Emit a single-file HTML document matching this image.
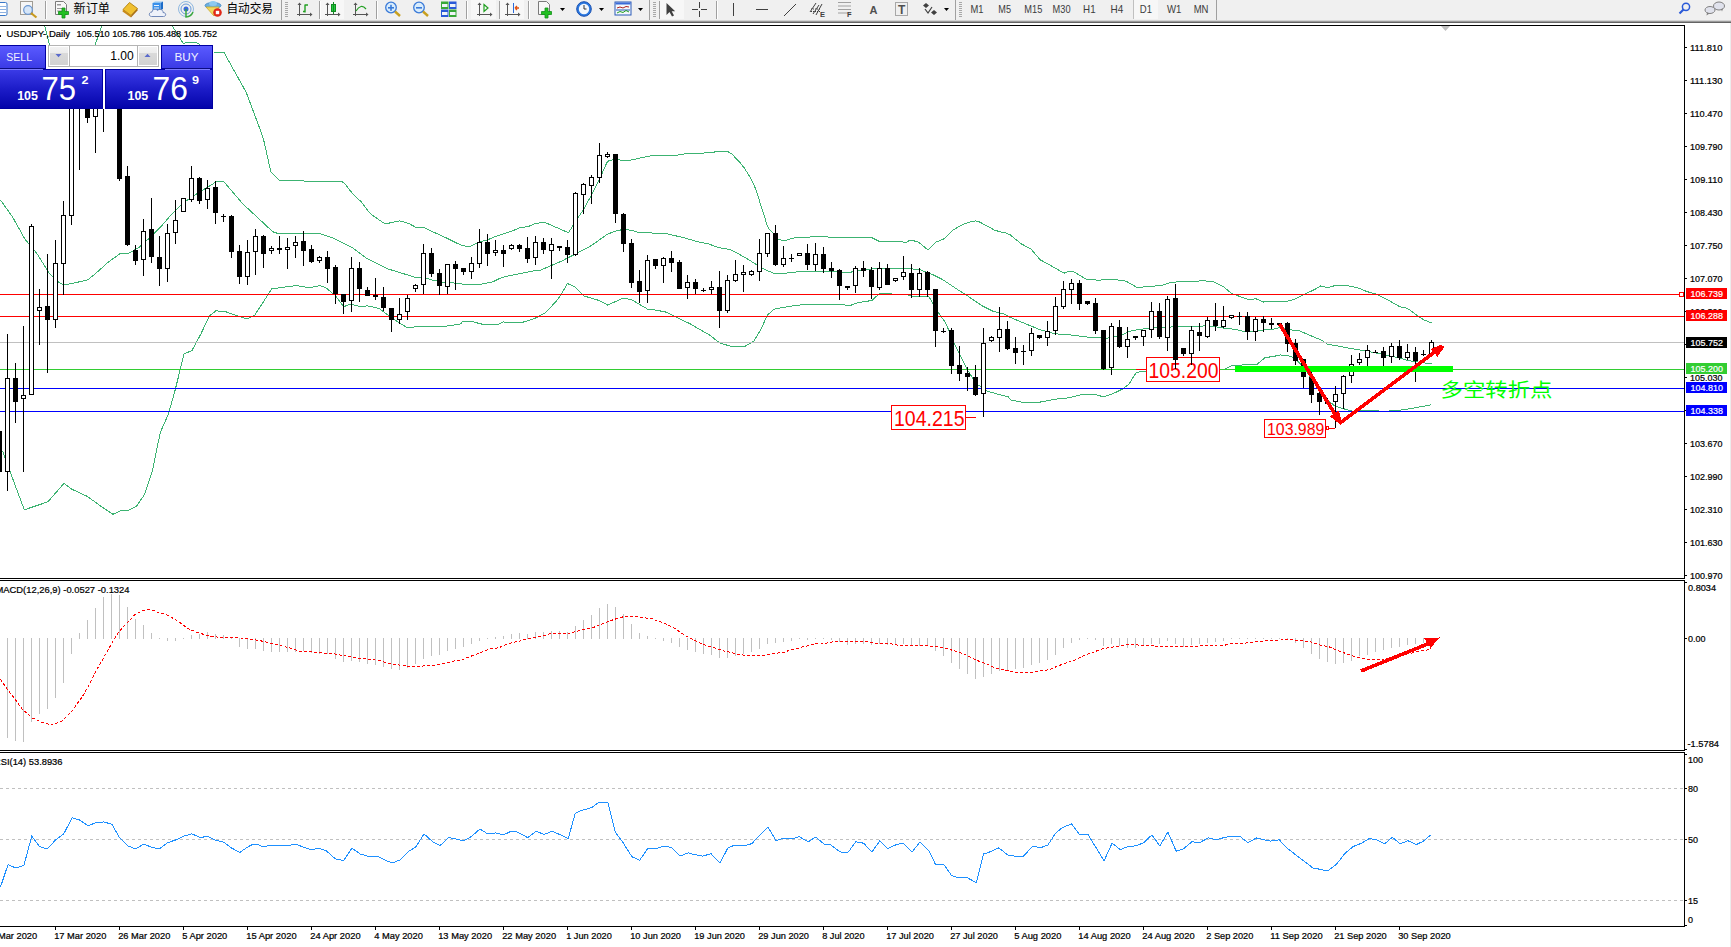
<!DOCTYPE html>
<html><head><meta charset="utf-8"><title>USDJPY Daily</title>
<style>
html,body{margin:0;padding:0;background:#fff;}
body{width:1731px;height:947px;overflow:hidden;position:relative;}
svg{position:absolute;left:0;top:0;}
</style></head>
<body>
<svg width="1731" height="947" viewBox="0 0 1731 947">
<rect x="0" y="0" width="1731" height="947" fill="#fff"/>
<rect x="0" y="25" width="1685" height="1" fill="#000"/>
<rect x="1684" y="25" width="1" height="554" fill="#000"/>
<rect x="0" y="578" width="1685" height="1" fill="#000"/>
<rect x="0" y="580" width="1685" height="1" fill="#000"/>
<rect x="1684" y="580" width="1" height="171" fill="#000"/>
<rect x="0" y="750" width="1685" height="1" fill="#000"/>
<rect x="0" y="752" width="1685" height="1" fill="#000"/>
<rect x="1684" y="752" width="1" height="175" fill="#000"/>
<rect x="0" y="926" width="1685" height="1" fill="#000"/>
<line x1="0" y1="788.5" x2="1684" y2="788.5" stroke="#c0c0c0" stroke-width="1" stroke-dasharray="3,3" shape-rendering="crispEdges"/>
<line x1="0" y1="839.5" x2="1684" y2="839.5" stroke="#c0c0c0" stroke-width="1" stroke-dasharray="3,3" shape-rendering="crispEdges"/>
<line x1="0" y1="900.5" x2="1684" y2="900.5" stroke="#c0c0c0" stroke-width="1" stroke-dasharray="3,3" shape-rendering="crispEdges"/>
<path d="M1441 26 L1450 26 L1445.5 31 Z" fill="#c0c0c0"/>
<defs><clipPath id="cMain"><rect x="0" y="26" width="1684" height="552"/></clipPath></defs>
<g fill="none" stroke="#3cb371" stroke-width="1" shape-rendering="crispEdges" clip-path="url(#cMain)">
<polyline points="38.5,10.5 44.9,26.7 49.0,43.0 52.5,60.5"/>
<polyline points="90.5,60.5 95.8,43.0 101.4,26.7 104.5,12.5"/>
<polyline points="165.5,10.5 172.5,26.3 183.0,43.1 196.5,42.5 202.5,46.5"/>
<polyline points="213.5,52.8 216.1,52.8 224.3,53.0 246.3,92.5 260.5,130.5 263.8,140.5 270.8,171.6 279.8,180.6 300.5,180.9 331.5,181.9 338.5,181.1 342.5,181.9 345.5,184.5 350.5,191.0 355.5,196.7 361.5,202.0 367.4,210.1 372.0,215.0 385.1,223.9 399.9,220.9 408.8,223.4 416.2,227.6 424.2,227.6 432.5,231.7 444.8,237.2 455.8,242.7 462.7,245.7 469.5,246.8 479.1,242.0 487.4,239.9 495.6,236.5 503.8,233.7 512.1,231.0 520.3,227.6 528.5,226.5 535.4,223.2 545.5,222.7 568.5,232.7 575.5,221.7 583.5,209.4 591.5,195.1 599.5,179.0 607.5,161.3 615.5,159.0 623.5,160.9 631.5,160.0 639.5,158.1 651.7,155.6 674.9,155.6 684.2,153.9 699.3,153.5 715.6,151.9 728.3,151.8 731.8,153.9 740.0,162.6 744.6,168.4 750.4,177.7 753.9,184.6 757.4,193.9 760.9,205.6 764.4,216.0 766.7,224.2 769.0,228.8 773.1,233.4 778.3,239.3 784.1,241.0 790.5,238.7 795.8,237.7 803.4,237.7 811.0,236.9 827.5,236.9 830.1,237.7 871.9,237.7 879.5,241.5 907.1,242.1 908.7,240.8 913.9,240.8 918.6,242.3 927.9,249.9 936.3,241.9 943.5,239.2 952.9,230.1 963.3,224.2 970.6,221.8 975.8,220.9 979.9,222.1 994.5,230.1 999.7,231.7 1005.9,232.9 1010.1,234.8 1021.5,244.0 1030.9,248.9 1040.2,259.8 1050.6,265.5 1059.3,270.5 1064.2,273.1 1069.7,271.2 1074.1,272.0 1081.5,276.4 1087.4,279.7 1099.2,280.1 1114.0,279.4 1125.8,281.1 1133.2,285.3 1137.7,288.0 1144.2,286.7 1160.7,285.6 1171.7,282.2 1188.2,281.5 1203.3,280.8 1212.9,281.5 1223.8,287.0 1232.1,293.8 1240.3,296.6 1248.6,299.6 1256.0,298.8 1263.7,302.1 1270.3,301.0 1287.8,301.0 1294.4,299.3 1303.2,294.9 1314.2,289.7 1320.8,285.9 1327.3,287.8 1333.9,285.9 1348.2,285.9 1353.7,287.0 1360.3,288.6 1366.9,291.6 1376.7,294.1 1387.7,299.9 1399.8,306.7 1406.4,308.0 1410.8,310.6 1418.5,316.6 1424.0,319.9 1431.5,322.9"/>
<polyline points="0.5,200.1 12.6,217.1 24.8,238.9 36.9,253.5 49.1,273.0 58.8,282.2 63.7,285.1 73.4,283.2 87.9,279.8 97.7,271.7 107.4,262.8 119.5,254.0 129.2,253.0 138.9,247.5 151.1,236.5 160.8,226.8 170.5,215.5 180.5,205.5 190.5,197.7 216.6,181.6 223.7,181.6 242.7,203.7 272.8,231.8 278.8,233.8 320.1,233.8 331.9,237.5 352.6,247.8 367.4,258.9 386.6,268.5 405.8,274.4 416.2,277.7 424.2,277.7 433.8,280.4 443.5,282.2 451.7,282.7 462.7,284.1 481.9,284.1 492.9,281.8 499.7,278.4 506.6,276.3 520.3,273.5 534.0,270.8 540.5,270.2 560.5,261.6 575.5,254.0 591.5,245.5 599.5,239.8 607.5,234.1 615.5,231.2 623.5,229.3 631.5,230.3 639.5,232.9 650.5,232.9 667.9,234.0 685.4,238.1 697.0,241.6 708.6,243.9 717.9,247.4 730.7,249.7 745.1,257.5 757.0,264.9 765.8,270.0 775.5,273.9 785.7,273.2 795.8,272.0 803.5,271.3 811.0,272.0 821.2,271.1 830.1,271.1 841.5,272.0 851.6,272.0 859.2,270.1 869.3,269.8 874.4,268.5 884.5,268.2 907.1,268.1 911.3,268.9 919.6,269.6 932.1,274.3 942.5,279.5 959.1,290.5 966.5,295.2 981.7,305.6 993.1,311.3 1004.5,314.2 1010.5,317.5 1025.3,323.7 1040.1,329.7 1054.9,333.8 1069.7,334.8 1084.4,336.8 1099.2,337.8 1106.6,338.2 1114.0,337.0 1122.9,334.4 1128.8,331.4 1138.7,329.5 1151.1,328.2 1164.8,327.1 1185.4,326.8 1199.1,326.8 1206.0,325.4 1215.6,326.8 1223.8,328.2 1234.8,329.3 1245.8,332.0 1250.5,331.8 1262.3,330.1 1272.7,329.3 1280.1,327.4 1290.4,329.8 1299.3,330.8 1309.6,335.2 1321.5,340.1 1327.4,344.1 1339.2,346.3 1351.0,348.5 1366.3,351.1 1382.2,354.1 1394.9,356.9 1408.6,360.6 1423.4,362.8 1431.5,363.8"/>
<polyline points="0.5,449.5 3.1,452.2 9.7,470.7 24.3,509.8 48.0,501.8 63.9,483.4 71.8,489.2 87.7,496.6 100.9,506.3 112.8,514.3 120.7,510.8 127.3,510.8 136.5,506.3 144.5,494.5 152.4,470.7 160.3,432.4 168.2,414.7 174.8,391.4 184.1,353.9 192.0,350.5 201.2,333.3 209.2,316.2 215.8,310.9 224.7,311.4 246.7,319.0 254.8,315.0 271.8,288.9 296.4,285.5 309.7,287.8 320.1,285.5 326.0,287.8 334.9,295.1 343.7,306.7 351.1,304.0 360.0,306.7 367.4,305.8 379.2,308.5 391.1,317.3 399.9,323.2 407.5,327.7 414.7,326.9 440.5,326.9 460.5,324.0 462.5,321.7 473.5,321.9 480.5,323.8 485.5,324.9 497.5,324.9 503.5,321.9 508.5,322.6 520.5,322.9 527.5,320.8 537.5,317.3 545.5,312.5 555.5,302.1 561.5,294.0 567.5,283.5 575.5,287.3 583.5,295.8 599.5,300.6 607.5,305.0 623.5,298.1 631.5,299.6 647.5,309.1 655.5,310.1 665.3,311.9 677.1,317.4 690.4,324.0 709.7,335.1 720.0,343.2 733.3,346.9 745.1,346.2 754.0,341.0 761.4,328.5 767.3,315.1 773.2,310.0 775.5,308.7 783.2,307.4 795.8,305.3 808.5,304.5 833.9,304.5 844.0,304.9 849.1,305.8 859.2,302.4 871.9,300.5 879.5,293.5 884.5,293.9 905.7,294.2 911.4,296.1 928.5,296.1 939.9,315.1 945.6,322.7 955.1,345.5 966.5,368.3 976.0,383.5 987.4,391.1 996.9,394.0 1008.3,396.8 1010.5,399.9 1025.3,402.9 1040.1,402.1 1054.9,399.2 1069.7,397.7 1081.5,394.7 1093.3,394.0 1103.7,396.9 1114.0,393.2 1122.9,388.8 1128.8,384.4 1136.0,372.8 1139.4,372.0 1146.5,371.7 1220.3,369.9 1224.6,369.2 1230.9,365.9 1243.1,364.9 1256.4,364.8 1265.3,357.4 1272.7,356.7 1280.1,354.9 1287.5,355.5 1294.9,358.2 1302.2,365.5 1309.6,375.9 1318.5,389.2 1325.9,399.0 1329.8,401.8 1334.5,405.8 1339.5,407.5 1345.1,409.2 1354.0,411.4 1360.5,410.8 1387.5,411.1 1403.3,409.8 1416.0,407.6 1431.5,404.8"/>
</g>
<rect x="0" y="294" width="1679" height="1" fill="#ff0000"/>
<rect x="0" y="316" width="1684" height="1" fill="#ff0000"/>
<rect x="0" y="342" width="1684" height="1" fill="#c0c0c0"/>
<rect x="0" y="369" width="1684" height="1" fill="#32cd32"/>
<rect x="0" y="388" width="1684" height="1" fill="#0000ff"/>
<rect x="0" y="411" width="1684" height="1" fill="#0000ff"/>
<rect x="1679.5" y="292.5" width="4" height="4" fill="#fff" stroke="#ff0000" stroke-width="1"/>
<rect x="1146.5" y="357.5" width="73" height="24" fill="#fff" stroke="#ff0000" stroke-width="1"/>
<text x="1148.5" y="378.3" font-size="22" fill="#ff0000" textLength="70.0" lengthAdjust="spacingAndGlyphs" font-family="'Liberation Sans',Arial,sans-serif" >105.200</text>
<rect x="1136" y="369" width="10" height="1" fill="#ff0000"/>
<rect x="891.5" y="405.5" width="74" height="24" fill="#fff" stroke="#ff0000" stroke-width="1"/>
<text x="894.0" y="426.0" font-size="22" fill="#ff0000" textLength="70.5" lengthAdjust="spacingAndGlyphs" font-family="'Liberation Sans',Arial,sans-serif" >104.215</text>
<rect x="966" y="417" width="10" height="1" fill="#ff0000"/>
<rect x="1264.5" y="419.5" width="61" height="18" fill="#fff" stroke="#ff0000" stroke-width="1"/>
<text x="1267.0" y="435.0" font-size="16.5" fill="#ff0000" textLength="57.299999999999955" lengthAdjust="spacingAndGlyphs" font-family="'Liberation Sans',Arial,sans-serif" >103.989</text>
<rect x="1326.5" y="426.5" width="2" height="3" fill="#fff" stroke="#ff0000" stroke-width="1"/>
<rect x="1329" y="428" width="6" height="1" fill="#ff0000"/>
<g shape-rendering="crispEdges">
<rect x="-1" y="430" width="1" height="42" fill="#000"/>
<rect x="-3" y="431" width="5" height="41" fill="#000"/>
<rect x="7" y="334" width="1" height="157" fill="#000"/>
<rect x="5" y="378" width="5" height="94" fill="#000"/>
<rect x="6" y="379" width="3" height="92" fill="#fff"/>
<rect x="15" y="363" width="1" height="60" fill="#000"/>
<rect x="13" y="378" width="5" height="24" fill="#000"/>
<rect x="23" y="326" width="1" height="146" fill="#000"/>
<rect x="21" y="395" width="5" height="4" fill="#000"/>
<rect x="22" y="396" width="3" height="2" fill="#fff"/>
<rect x="31" y="224" width="1" height="171" fill="#000"/>
<rect x="29" y="226" width="5" height="169" fill="#000"/>
<rect x="30" y="227" width="3" height="167" fill="#fff"/>
<rect x="39" y="289" width="1" height="56" fill="#000"/>
<rect x="37" y="307" width="5" height="4" fill="#000"/>
<rect x="38" y="308" width="3" height="2" fill="#fff"/>
<rect x="47" y="254" width="1" height="119" fill="#000"/>
<rect x="45" y="306" width="5" height="14" fill="#000"/>
<rect x="55" y="240" width="1" height="88" fill="#000"/>
<rect x="53" y="263" width="5" height="57" fill="#000"/>
<rect x="54" y="264" width="3" height="55" fill="#fff"/>
<rect x="63" y="201" width="1" height="94" fill="#000"/>
<rect x="61" y="215" width="5" height="49" fill="#000"/>
<rect x="62" y="216" width="3" height="47" fill="#fff"/>
<rect x="71" y="55" width="1" height="170" fill="#000"/>
<rect x="69" y="60" width="5" height="156" fill="#000"/>
<rect x="70" y="61" width="3" height="154" fill="#fff"/>
<rect x="79" y="55" width="1" height="115" fill="#000"/>
<rect x="77" y="70" width="5" height="30" fill="#000"/>
<rect x="87" y="60" width="1" height="63" fill="#000"/>
<rect x="85" y="80" width="5" height="38" fill="#000"/>
<rect x="95" y="70" width="1" height="83" fill="#000"/>
<rect x="93" y="90" width="5" height="27" fill="#000"/>
<rect x="94" y="91" width="3" height="25" fill="#fff"/>
<rect x="103" y="55" width="1" height="77" fill="#000"/>
<rect x="101" y="60" width="5" height="40" fill="#000"/>
<rect x="111" y="55" width="1" height="50" fill="#000"/>
<rect x="109" y="60" width="5" height="40" fill="#000"/>
<rect x="119" y="60" width="1" height="121" fill="#000"/>
<rect x="117" y="75" width="5" height="104" fill="#000"/>
<rect x="127" y="166" width="1" height="80" fill="#000"/>
<rect x="125" y="176" width="5" height="69" fill="#000"/>
<rect x="135" y="245" width="1" height="20" fill="#000"/>
<rect x="133" y="250" width="5" height="11" fill="#000"/>
<rect x="143" y="219" width="1" height="57" fill="#000"/>
<rect x="141" y="231" width="5" height="29" fill="#000"/>
<rect x="142" y="232" width="3" height="27" fill="#fff"/>
<rect x="151" y="198" width="1" height="65" fill="#000"/>
<rect x="149" y="229" width="5" height="28" fill="#000"/>
<rect x="159" y="236" width="1" height="50" fill="#000"/>
<rect x="157" y="257" width="5" height="12" fill="#000"/>
<rect x="167" y="224" width="1" height="58" fill="#000"/>
<rect x="165" y="233" width="5" height="36" fill="#000"/>
<rect x="166" y="234" width="3" height="34" fill="#fff"/>
<rect x="175" y="200" width="1" height="44" fill="#000"/>
<rect x="173" y="220" width="5" height="13" fill="#000"/>
<rect x="174" y="221" width="3" height="11" fill="#fff"/>
<rect x="183" y="198" width="1" height="14" fill="#000"/>
<rect x="181" y="198" width="5" height="14" fill="#000"/>
<rect x="182" y="199" width="3" height="12" fill="#fff"/>
<rect x="191" y="166" width="1" height="36" fill="#000"/>
<rect x="189" y="178" width="5" height="22" fill="#000"/>
<rect x="190" y="179" width="3" height="20" fill="#fff"/>
<rect x="199" y="177" width="1" height="27" fill="#000"/>
<rect x="197" y="178" width="5" height="23" fill="#000"/>
<rect x="207" y="180" width="1" height="29" fill="#000"/>
<rect x="205" y="188" width="5" height="12" fill="#000"/>
<rect x="206" y="189" width="3" height="10" fill="#fff"/>
<rect x="215" y="181" width="1" height="43" fill="#000"/>
<rect x="213" y="187" width="5" height="26" fill="#000"/>
<rect x="223" y="214" width="1" height="8" fill="#000"/>
<rect x="221" y="216" width="5" height="1" fill="#000"/>
<rect x="231" y="215" width="1" height="43" fill="#000"/>
<rect x="229" y="216" width="5" height="36" fill="#000"/>
<rect x="239" y="245" width="1" height="39" fill="#000"/>
<rect x="237" y="251" width="5" height="26" fill="#000"/>
<rect x="247" y="240" width="1" height="45" fill="#000"/>
<rect x="245" y="252" width="5" height="25" fill="#000"/>
<rect x="246" y="253" width="3" height="23" fill="#fff"/>
<rect x="255" y="229" width="1" height="46" fill="#000"/>
<rect x="253" y="236" width="5" height="16" fill="#000"/>
<rect x="254" y="237" width="3" height="14" fill="#fff"/>
<rect x="263" y="235" width="1" height="33" fill="#000"/>
<rect x="261" y="236" width="5" height="18" fill="#000"/>
<rect x="271" y="246" width="1" height="8" fill="#000"/>
<rect x="269" y="248" width="5" height="3" fill="#000"/>
<rect x="270" y="249" width="3" height="1" fill="#fff"/>
<rect x="279" y="236" width="1" height="18" fill="#000"/>
<rect x="277" y="248" width="5" height="2" fill="#000"/>
<rect x="287" y="238" width="1" height="31" fill="#000"/>
<rect x="285" y="247" width="5" height="3" fill="#000"/>
<rect x="286" y="248" width="3" height="1" fill="#fff"/>
<rect x="295" y="236" width="1" height="22" fill="#000"/>
<rect x="293" y="242" width="5" height="4" fill="#000"/>
<rect x="294" y="243" width="3" height="2" fill="#fff"/>
<rect x="303" y="231" width="1" height="35" fill="#000"/>
<rect x="301" y="241" width="5" height="10" fill="#000"/>
<rect x="311" y="245" width="1" height="18" fill="#000"/>
<rect x="309" y="249" width="5" height="13" fill="#000"/>
<rect x="319" y="256" width="1" height="7" fill="#000"/>
<rect x="317" y="257" width="5" height="4" fill="#000"/>
<rect x="318" y="258" width="3" height="2" fill="#fff"/>
<rect x="327" y="251" width="1" height="32" fill="#000"/>
<rect x="325" y="257" width="5" height="12" fill="#000"/>
<rect x="335" y="265" width="1" height="39" fill="#000"/>
<rect x="333" y="267" width="5" height="27" fill="#000"/>
<rect x="343" y="294" width="1" height="20" fill="#000"/>
<rect x="341" y="294" width="5" height="8" fill="#000"/>
<rect x="351" y="257" width="1" height="55" fill="#000"/>
<rect x="349" y="268" width="5" height="33" fill="#000"/>
<rect x="350" y="269" width="3" height="31" fill="#fff"/>
<rect x="359" y="262" width="1" height="40" fill="#000"/>
<rect x="357" y="268" width="5" height="21" fill="#000"/>
<rect x="367" y="287" width="1" height="9" fill="#000"/>
<rect x="365" y="290" width="5" height="6" fill="#000"/>
<rect x="375" y="278" width="1" height="22" fill="#000"/>
<rect x="373" y="295" width="5" height="2" fill="#000"/>
<rect x="383" y="287" width="1" height="24" fill="#000"/>
<rect x="381" y="297" width="5" height="11" fill="#000"/>
<rect x="391" y="308" width="1" height="24" fill="#000"/>
<rect x="389" y="308" width="5" height="12" fill="#000"/>
<rect x="399" y="298" width="1" height="26" fill="#000"/>
<rect x="397" y="314" width="5" height="6" fill="#000"/>
<rect x="398" y="315" width="3" height="4" fill="#fff"/>
<rect x="407" y="295" width="1" height="25" fill="#000"/>
<rect x="405" y="298" width="5" height="14" fill="#000"/>
<rect x="406" y="299" width="3" height="12" fill="#fff"/>
<rect x="415" y="284" width="1" height="8" fill="#000"/>
<rect x="413" y="285" width="5" height="4" fill="#000"/>
<rect x="414" y="286" width="3" height="2" fill="#fff"/>
<rect x="423" y="244" width="1" height="50" fill="#000"/>
<rect x="421" y="253" width="5" height="32" fill="#000"/>
<rect x="422" y="254" width="3" height="30" fill="#fff"/>
<rect x="431" y="248" width="1" height="29" fill="#000"/>
<rect x="429" y="253" width="5" height="21" fill="#000"/>
<rect x="439" y="269" width="1" height="26" fill="#000"/>
<rect x="437" y="273" width="5" height="13" fill="#000"/>
<rect x="447" y="264" width="1" height="30" fill="#000"/>
<rect x="445" y="264" width="5" height="23" fill="#000"/>
<rect x="446" y="265" width="3" height="21" fill="#fff"/>
<rect x="455" y="261" width="1" height="29" fill="#000"/>
<rect x="453" y="264" width="5" height="5" fill="#000"/>
<rect x="463" y="268" width="1" height="7" fill="#000"/>
<rect x="461" y="268" width="5" height="4" fill="#000"/>
<rect x="471" y="257" width="1" height="22" fill="#000"/>
<rect x="469" y="263" width="5" height="9" fill="#000"/>
<rect x="470" y="264" width="3" height="7" fill="#fff"/>
<rect x="479" y="229" width="1" height="39" fill="#000"/>
<rect x="477" y="242" width="5" height="22" fill="#000"/>
<rect x="478" y="243" width="3" height="20" fill="#fff"/>
<rect x="487" y="234" width="1" height="32" fill="#000"/>
<rect x="485" y="242" width="5" height="12" fill="#000"/>
<rect x="495" y="240" width="1" height="16" fill="#000"/>
<rect x="493" y="250" width="5" height="3" fill="#000"/>
<rect x="494" y="251" width="3" height="1" fill="#fff"/>
<rect x="503" y="245" width="1" height="22" fill="#000"/>
<rect x="501" y="250" width="5" height="4" fill="#000"/>
<rect x="511" y="244" width="1" height="6" fill="#000"/>
<rect x="509" y="245" width="5" height="4" fill="#000"/>
<rect x="510" y="246" width="3" height="2" fill="#fff"/>
<rect x="519" y="244" width="1" height="8" fill="#000"/>
<rect x="517" y="245" width="5" height="4" fill="#000"/>
<rect x="527" y="237" width="1" height="26" fill="#000"/>
<rect x="525" y="248" width="5" height="11" fill="#000"/>
<rect x="535" y="236" width="1" height="29" fill="#000"/>
<rect x="533" y="242" width="5" height="16" fill="#000"/>
<rect x="534" y="243" width="3" height="14" fill="#fff"/>
<rect x="543" y="238" width="1" height="16" fill="#000"/>
<rect x="541" y="242" width="5" height="8" fill="#000"/>
<rect x="551" y="238" width="1" height="41" fill="#000"/>
<rect x="549" y="244" width="5" height="7" fill="#000"/>
<rect x="550" y="245" width="3" height="5" fill="#fff"/>
<rect x="559" y="246" width="1" height="5" fill="#000"/>
<rect x="557" y="246" width="5" height="2" fill="#000"/>
<rect x="567" y="240" width="1" height="23" fill="#000"/>
<rect x="565" y="247" width="5" height="8" fill="#000"/>
<rect x="575" y="192" width="1" height="64" fill="#000"/>
<rect x="573" y="193" width="5" height="62" fill="#000"/>
<rect x="574" y="194" width="3" height="60" fill="#fff"/>
<rect x="583" y="183" width="1" height="31" fill="#000"/>
<rect x="581" y="184" width="5" height="11" fill="#000"/>
<rect x="582" y="185" width="3" height="9" fill="#fff"/>
<rect x="591" y="175" width="1" height="29" fill="#000"/>
<rect x="589" y="177" width="5" height="9" fill="#000"/>
<rect x="590" y="178" width="3" height="7" fill="#fff"/>
<rect x="599" y="143" width="1" height="40" fill="#000"/>
<rect x="597" y="155" width="5" height="23" fill="#000"/>
<rect x="598" y="156" width="3" height="21" fill="#fff"/>
<rect x="607" y="152" width="1" height="6" fill="#000"/>
<rect x="605" y="154" width="5" height="3" fill="#000"/>
<rect x="606" y="155" width="3" height="1" fill="#fff"/>
<rect x="615" y="154" width="1" height="69" fill="#000"/>
<rect x="613" y="154" width="5" height="60" fill="#000"/>
<rect x="623" y="213" width="1" height="39" fill="#000"/>
<rect x="621" y="214" width="5" height="30" fill="#000"/>
<rect x="631" y="239" width="1" height="49" fill="#000"/>
<rect x="629" y="243" width="5" height="40" fill="#000"/>
<rect x="639" y="270" width="1" height="33" fill="#000"/>
<rect x="637" y="281" width="5" height="11" fill="#000"/>
<rect x="647" y="255" width="1" height="48" fill="#000"/>
<rect x="645" y="260" width="5" height="31" fill="#000"/>
<rect x="646" y="261" width="3" height="29" fill="#fff"/>
<rect x="655" y="259" width="1" height="10" fill="#000"/>
<rect x="653" y="259" width="5" height="7" fill="#000"/>
<rect x="663" y="257" width="1" height="26" fill="#000"/>
<rect x="661" y="258" width="5" height="8" fill="#000"/>
<rect x="662" y="259" width="3" height="6" fill="#fff"/>
<rect x="671" y="251" width="1" height="21" fill="#000"/>
<rect x="669" y="258" width="5" height="5" fill="#000"/>
<rect x="679" y="260" width="1" height="29" fill="#000"/>
<rect x="677" y="262" width="5" height="27" fill="#000"/>
<rect x="687" y="275" width="1" height="24" fill="#000"/>
<rect x="685" y="282" width="5" height="6" fill="#000"/>
<rect x="686" y="283" width="3" height="4" fill="#fff"/>
<rect x="695" y="279" width="1" height="15" fill="#000"/>
<rect x="693" y="282" width="5" height="7" fill="#000"/>
<rect x="703" y="288" width="1" height="4" fill="#000"/>
<rect x="701" y="290" width="5" height="1" fill="#000"/>
<rect x="711" y="281" width="1" height="13" fill="#000"/>
<rect x="709" y="287" width="5" height="3" fill="#000"/>
<rect x="710" y="288" width="3" height="1" fill="#fff"/>
<rect x="719" y="271" width="1" height="57" fill="#000"/>
<rect x="717" y="287" width="5" height="24" fill="#000"/>
<rect x="727" y="275" width="1" height="38" fill="#000"/>
<rect x="725" y="280" width="5" height="31" fill="#000"/>
<rect x="726" y="281" width="3" height="29" fill="#fff"/>
<rect x="735" y="260" width="1" height="22" fill="#000"/>
<rect x="733" y="274" width="5" height="7" fill="#000"/>
<rect x="734" y="275" width="3" height="5" fill="#fff"/>
<rect x="743" y="265" width="1" height="27" fill="#000"/>
<rect x="741" y="272" width="5" height="3" fill="#000"/>
<rect x="742" y="273" width="3" height="1" fill="#fff"/>
<rect x="751" y="270" width="1" height="6" fill="#000"/>
<rect x="749" y="271" width="5" height="4" fill="#000"/>
<rect x="750" y="272" width="3" height="2" fill="#fff"/>
<rect x="759" y="239" width="1" height="42" fill="#000"/>
<rect x="757" y="253" width="5" height="19" fill="#000"/>
<rect x="758" y="254" width="3" height="17" fill="#fff"/>
<rect x="767" y="233" width="1" height="24" fill="#000"/>
<rect x="765" y="233" width="5" height="21" fill="#000"/>
<rect x="766" y="234" width="3" height="19" fill="#fff"/>
<rect x="775" y="225" width="1" height="41" fill="#000"/>
<rect x="773" y="233" width="5" height="32" fill="#000"/>
<rect x="783" y="246" width="1" height="21" fill="#000"/>
<rect x="781" y="258" width="5" height="7" fill="#000"/>
<rect x="782" y="259" width="3" height="5" fill="#fff"/>
<rect x="791" y="254" width="1" height="8" fill="#000"/>
<rect x="789" y="258" width="5" height="1" fill="#000"/>
<rect x="799" y="253" width="1" height="3" fill="#000"/>
<rect x="797" y="253" width="5" height="3" fill="#000"/>
<rect x="798" y="254" width="3" height="1" fill="#fff"/>
<rect x="807" y="244" width="1" height="26" fill="#000"/>
<rect x="805" y="253" width="5" height="12" fill="#000"/>
<rect x="815" y="243" width="1" height="28" fill="#000"/>
<rect x="813" y="254" width="5" height="11" fill="#000"/>
<rect x="814" y="255" width="3" height="9" fill="#fff"/>
<rect x="823" y="247" width="1" height="26" fill="#000"/>
<rect x="821" y="254" width="5" height="15" fill="#000"/>
<rect x="831" y="262" width="1" height="16" fill="#000"/>
<rect x="829" y="268" width="5" height="3" fill="#000"/>
<rect x="839" y="269" width="1" height="31" fill="#000"/>
<rect x="837" y="270" width="5" height="16" fill="#000"/>
<rect x="847" y="286" width="1" height="4" fill="#000"/>
<rect x="845" y="286" width="5" height="2" fill="#000"/>
<rect x="855" y="266" width="1" height="27" fill="#000"/>
<rect x="853" y="268" width="5" height="18" fill="#000"/>
<rect x="854" y="269" width="3" height="16" fill="#fff"/>
<rect x="863" y="261" width="1" height="16" fill="#000"/>
<rect x="861" y="268" width="5" height="3" fill="#000"/>
<rect x="871" y="267" width="1" height="32" fill="#000"/>
<rect x="869" y="270" width="5" height="17" fill="#000"/>
<rect x="879" y="262" width="1" height="28" fill="#000"/>
<rect x="877" y="268" width="5" height="20" fill="#000"/>
<rect x="878" y="269" width="3" height="18" fill="#fff"/>
<rect x="887" y="264" width="1" height="21" fill="#000"/>
<rect x="885" y="268" width="5" height="17" fill="#000"/>
<rect x="895" y="278" width="1" height="4" fill="#000"/>
<rect x="893" y="278" width="5" height="3" fill="#000"/>
<rect x="894" y="279" width="3" height="1" fill="#fff"/>
<rect x="903" y="256" width="1" height="24" fill="#000"/>
<rect x="901" y="272" width="5" height="5" fill="#000"/>
<rect x="902" y="273" width="3" height="3" fill="#fff"/>
<rect x="911" y="264" width="1" height="34" fill="#000"/>
<rect x="909" y="273" width="5" height="17" fill="#000"/>
<rect x="919" y="268" width="1" height="29" fill="#000"/>
<rect x="917" y="273" width="5" height="17" fill="#000"/>
<rect x="918" y="274" width="3" height="15" fill="#fff"/>
<rect x="927" y="271" width="1" height="26" fill="#000"/>
<rect x="925" y="272" width="5" height="18" fill="#000"/>
<rect x="935" y="289" width="1" height="58" fill="#000"/>
<rect x="933" y="289" width="5" height="42" fill="#000"/>
<rect x="943" y="328" width="1" height="5" fill="#000"/>
<rect x="941" y="331" width="5" height="1" fill="#000"/>
<rect x="951" y="328" width="1" height="46" fill="#000"/>
<rect x="949" y="330" width="5" height="36" fill="#000"/>
<rect x="959" y="346" width="1" height="35" fill="#000"/>
<rect x="957" y="365" width="5" height="9" fill="#000"/>
<rect x="967" y="367" width="1" height="24" fill="#000"/>
<rect x="965" y="373" width="5" height="4" fill="#000"/>
<rect x="975" y="365" width="1" height="31" fill="#000"/>
<rect x="973" y="377" width="5" height="18" fill="#000"/>
<rect x="983" y="328" width="1" height="89" fill="#000"/>
<rect x="981" y="343" width="5" height="51" fill="#000"/>
<rect x="982" y="344" width="3" height="49" fill="#fff"/>
<rect x="991" y="336" width="1" height="6" fill="#000"/>
<rect x="989" y="337" width="5" height="4" fill="#000"/>
<rect x="990" y="338" width="3" height="2" fill="#fff"/>
<rect x="999" y="307" width="1" height="45" fill="#000"/>
<rect x="997" y="329" width="5" height="9" fill="#000"/>
<rect x="998" y="330" width="3" height="7" fill="#fff"/>
<rect x="1007" y="321" width="1" height="29" fill="#000"/>
<rect x="1005" y="329" width="5" height="20" fill="#000"/>
<rect x="1015" y="337" width="1" height="27" fill="#000"/>
<rect x="1013" y="348" width="5" height="5" fill="#000"/>
<rect x="1023" y="345" width="1" height="20" fill="#000"/>
<rect x="1021" y="351" width="5" height="1" fill="#000"/>
<rect x="1031" y="328" width="1" height="28" fill="#000"/>
<rect x="1029" y="333" width="5" height="18" fill="#000"/>
<rect x="1030" y="334" width="3" height="16" fill="#fff"/>
<rect x="1039" y="335" width="1" height="4" fill="#000"/>
<rect x="1037" y="335" width="5" height="3" fill="#000"/>
<rect x="1047" y="321" width="1" height="25" fill="#000"/>
<rect x="1045" y="331" width="5" height="7" fill="#000"/>
<rect x="1046" y="332" width="3" height="5" fill="#fff"/>
<rect x="1055" y="297" width="1" height="38" fill="#000"/>
<rect x="1053" y="306" width="5" height="25" fill="#000"/>
<rect x="1054" y="307" width="3" height="23" fill="#fff"/>
<rect x="1063" y="281" width="1" height="28" fill="#000"/>
<rect x="1061" y="289" width="5" height="18" fill="#000"/>
<rect x="1062" y="290" width="3" height="16" fill="#fff"/>
<rect x="1071" y="279" width="1" height="25" fill="#000"/>
<rect x="1069" y="283" width="5" height="7" fill="#000"/>
<rect x="1070" y="284" width="3" height="5" fill="#fff"/>
<rect x="1079" y="280" width="1" height="30" fill="#000"/>
<rect x="1077" y="283" width="5" height="21" fill="#000"/>
<rect x="1087" y="301" width="1" height="4" fill="#000"/>
<rect x="1085" y="301" width="5" height="3" fill="#000"/>
<rect x="1095" y="298" width="1" height="36" fill="#000"/>
<rect x="1093" y="303" width="5" height="28" fill="#000"/>
<rect x="1103" y="330" width="1" height="40" fill="#000"/>
<rect x="1101" y="330" width="5" height="39" fill="#000"/>
<rect x="1111" y="323" width="1" height="52" fill="#000"/>
<rect x="1109" y="326" width="5" height="42" fill="#000"/>
<rect x="1110" y="327" width="3" height="40" fill="#fff"/>
<rect x="1119" y="320" width="1" height="28" fill="#000"/>
<rect x="1117" y="327" width="5" height="20" fill="#000"/>
<rect x="1127" y="327" width="1" height="31" fill="#000"/>
<rect x="1125" y="339" width="5" height="8" fill="#000"/>
<rect x="1126" y="340" width="3" height="6" fill="#fff"/>
<rect x="1135" y="336" width="1" height="4" fill="#000"/>
<rect x="1133" y="336" width="5" height="2" fill="#000"/>
<rect x="1143" y="330" width="1" height="16" fill="#000"/>
<rect x="1141" y="330" width="5" height="7" fill="#000"/>
<rect x="1142" y="331" width="3" height="5" fill="#fff"/>
<rect x="1151" y="302" width="1" height="36" fill="#000"/>
<rect x="1149" y="311" width="5" height="19" fill="#000"/>
<rect x="1150" y="312" width="3" height="17" fill="#fff"/>
<rect x="1159" y="303" width="1" height="36" fill="#000"/>
<rect x="1157" y="311" width="5" height="26" fill="#000"/>
<rect x="1167" y="296" width="1" height="55" fill="#000"/>
<rect x="1165" y="299" width="5" height="39" fill="#000"/>
<rect x="1166" y="300" width="3" height="37" fill="#fff"/>
<rect x="1175" y="284" width="1" height="85" fill="#000"/>
<rect x="1173" y="298" width="5" height="62" fill="#000"/>
<rect x="1183" y="348" width="1" height="8" fill="#000"/>
<rect x="1181" y="348" width="5" height="6" fill="#000"/>
<rect x="1191" y="326" width="1" height="39" fill="#000"/>
<rect x="1189" y="330" width="5" height="24" fill="#000"/>
<rect x="1190" y="331" width="3" height="22" fill="#fff"/>
<rect x="1199" y="323" width="1" height="28" fill="#000"/>
<rect x="1197" y="332" width="5" height="4" fill="#000"/>
<rect x="1207" y="317" width="1" height="21" fill="#000"/>
<rect x="1205" y="320" width="5" height="17" fill="#000"/>
<rect x="1206" y="321" width="3" height="15" fill="#fff"/>
<rect x="1215" y="303" width="1" height="28" fill="#000"/>
<rect x="1213" y="320" width="5" height="6" fill="#000"/>
<rect x="1223" y="306" width="1" height="22" fill="#000"/>
<rect x="1221" y="320" width="5" height="7" fill="#000"/>
<rect x="1222" y="321" width="3" height="5" fill="#fff"/>
<rect x="1231" y="315" width="1" height="4" fill="#000"/>
<rect x="1229" y="315" width="5" height="3" fill="#000"/>
<rect x="1230" y="316" width="3" height="1" fill="#fff"/>
<rect x="1239" y="312" width="1" height="13" fill="#000"/>
<rect x="1237" y="316" width="5" height="1" fill="#000"/>
<rect x="1247" y="312" width="1" height="28" fill="#000"/>
<rect x="1245" y="316" width="5" height="16" fill="#000"/>
<rect x="1255" y="317" width="1" height="24" fill="#000"/>
<rect x="1253" y="319" width="5" height="13" fill="#000"/>
<rect x="1254" y="320" width="3" height="11" fill="#fff"/>
<rect x="1263" y="316" width="1" height="16" fill="#000"/>
<rect x="1261" y="319" width="5" height="4" fill="#000"/>
<rect x="1271" y="318" width="1" height="11" fill="#000"/>
<rect x="1269" y="323" width="5" height="2" fill="#000"/>
<rect x="1279" y="323" width="1" height="2" fill="#000"/>
<rect x="1277" y="323" width="5" height="2" fill="#000"/>
<rect x="1287" y="322" width="1" height="30" fill="#000"/>
<rect x="1285" y="323" width="5" height="21" fill="#000"/>
<rect x="1295" y="339" width="1" height="26" fill="#000"/>
<rect x="1293" y="343" width="5" height="18" fill="#000"/>
<rect x="1303" y="359" width="1" height="29" fill="#000"/>
<rect x="1301" y="359" width="5" height="18" fill="#000"/>
<rect x="1311" y="372" width="1" height="31" fill="#000"/>
<rect x="1309" y="377" width="5" height="18" fill="#000"/>
<rect x="1319" y="389" width="1" height="26" fill="#000"/>
<rect x="1317" y="393" width="5" height="9" fill="#000"/>
<rect x="1327" y="398" width="1" height="7" fill="#000"/>
<rect x="1325" y="402" width="5" height="2" fill="#000"/>
<rect x="1335" y="386" width="1" height="42" fill="#000"/>
<rect x="1333" y="394" width="5" height="8" fill="#000"/>
<rect x="1334" y="395" width="3" height="6" fill="#fff"/>
<rect x="1343" y="375" width="1" height="34" fill="#000"/>
<rect x="1341" y="376" width="5" height="18" fill="#000"/>
<rect x="1342" y="377" width="3" height="16" fill="#fff"/>
<rect x="1351" y="355" width="1" height="28" fill="#000"/>
<rect x="1349" y="364" width="5" height="12" fill="#000"/>
<rect x="1350" y="365" width="3" height="10" fill="#fff"/>
<rect x="1359" y="353" width="1" height="12" fill="#000"/>
<rect x="1357" y="359" width="5" height="4" fill="#000"/>
<rect x="1358" y="360" width="3" height="2" fill="#fff"/>
<rect x="1367" y="345" width="1" height="21" fill="#000"/>
<rect x="1365" y="350" width="5" height="8" fill="#000"/>
<rect x="1366" y="351" width="3" height="6" fill="#fff"/>
<rect x="1375" y="350" width="1" height="2" fill="#000"/>
<rect x="1373" y="352" width="5" height="1" fill="#000"/>
<rect x="1383" y="347" width="1" height="19" fill="#000"/>
<rect x="1381" y="351" width="5" height="7" fill="#000"/>
<rect x="1391" y="343" width="1" height="20" fill="#000"/>
<rect x="1389" y="346" width="5" height="11" fill="#000"/>
<rect x="1390" y="347" width="3" height="9" fill="#fff"/>
<rect x="1399" y="340" width="1" height="20" fill="#000"/>
<rect x="1397" y="346" width="5" height="12" fill="#000"/>
<rect x="1407" y="344" width="1" height="16" fill="#000"/>
<rect x="1405" y="352" width="5" height="6" fill="#000"/>
<rect x="1406" y="353" width="3" height="4" fill="#fff"/>
<rect x="1415" y="347" width="1" height="35" fill="#000"/>
<rect x="1413" y="352" width="5" height="9" fill="#000"/>
<rect x="1423" y="350" width="1" height="6" fill="#000"/>
<rect x="1421" y="354" width="5" height="1" fill="#000"/>
<rect x="1431" y="340" width="1" height="15" fill="#000"/>
<rect x="1429" y="342" width="5" height="12" fill="#000"/>
<rect x="1430" y="343" width="3" height="10" fill="#fff"/>
</g>
<rect x="1235" y="366" width="218" height="6" fill="#00ff00"/>
<g fill="#ff0000" stroke="#ff0000" shape-rendering="crispEdges">
<line x1="1279.5" y1="324" x2="1338" y2="419" stroke-width="3.6"/>
<polygon points="1330.8,416.5 1338.5,411.2 1340.8,419.5 1340.3,424" stroke-width="1"/>
<line x1="1340" y1="423" x2="1436" y2="351" stroke-width="3.6"/>
<polygon points="1431.3,349.5 1440.5,345.2 1443.8,347 1437.5,355.8" stroke-width="1"/>
</g>
<text x="1440.5" y="396.7" font-size="19.8" fill="#00ff00" textLength="112" lengthAdjust="spacingAndGlyphs" font-family="'Liberation Sans','Noto Sans CJK SC',sans-serif" >多空转折点</text>
<g fill="#c0c0c0" shape-rendering="crispEdges">
<rect x="7" y="638" width="1" height="100"/>
<rect x="15" y="638" width="1" height="103"/>
<rect x="23" y="638" width="1" height="104"/>
<rect x="31" y="638" width="1" height="84"/>
<rect x="39" y="638" width="1" height="76"/>
<rect x="47" y="638" width="1" height="71"/>
<rect x="55" y="638" width="1" height="60"/>
<rect x="63" y="638" width="1" height="45"/>
<rect x="71" y="638" width="1" height="16"/>
<rect x="79" y="633" width="1" height="6"/>
<rect x="87" y="620" width="1" height="19"/>
<rect x="95" y="608" width="1" height="31"/>
<rect x="103" y="597" width="1" height="42"/>
<rect x="111" y="594" width="1" height="45"/>
<rect x="119" y="595" width="1" height="44"/>
<rect x="127" y="607" width="1" height="32"/>
<rect x="135" y="619" width="1" height="20"/>
<rect x="143" y="625" width="1" height="14"/>
<rect x="151" y="633" width="1" height="6"/>
<rect x="159" y="638" width="1" height="1"/>
<rect x="167" y="638" width="1" height="3"/>
<rect x="175" y="638" width="1" height="3"/>
<rect x="183" y="638" width="1" height="1"/>
<rect x="191" y="635" width="1" height="4"/>
<rect x="199" y="634" width="1" height="5"/>
<rect x="207" y="632" width="1" height="7"/>
<rect x="215" y="634" width="1" height="5"/>
<rect x="223" y="635" width="1" height="4"/>
<rect x="231" y="638" width="1" height="1"/>
<rect x="239" y="638" width="1" height="9"/>
<rect x="247" y="638" width="1" height="11"/>
<rect x="255" y="638" width="1" height="11"/>
<rect x="263" y="638" width="1" height="13"/>
<rect x="271" y="638" width="1" height="14"/>
<rect x="279" y="638" width="1" height="14"/>
<rect x="287" y="638" width="1" height="14"/>
<rect x="295" y="638" width="1" height="14"/>
<rect x="303" y="638" width="1" height="13"/>
<rect x="311" y="638" width="1" height="15"/>
<rect x="319" y="638" width="1" height="16"/>
<rect x="327" y="638" width="1" height="16"/>
<rect x="335" y="638" width="1" height="21"/>
<rect x="343" y="638" width="1" height="24"/>
<rect x="351" y="638" width="1" height="23"/>
<rect x="359" y="638" width="1" height="24"/>
<rect x="367" y="638" width="1" height="26"/>
<rect x="375" y="638" width="1" height="27"/>
<rect x="383" y="638" width="1" height="29"/>
<rect x="391" y="638" width="1" height="31"/>
<rect x="399" y="638" width="1" height="32"/>
<rect x="407" y="638" width="1" height="30"/>
<rect x="415" y="638" width="1" height="26"/>
<rect x="423" y="638" width="1" height="21"/>
<rect x="431" y="638" width="1" height="18"/>
<rect x="439" y="638" width="1" height="17"/>
<rect x="447" y="638" width="1" height="13"/>
<rect x="455" y="638" width="1" height="11"/>
<rect x="463" y="638" width="1" height="9"/>
<rect x="471" y="638" width="1" height="6"/>
<rect x="479" y="638" width="1" height="3"/>
<rect x="487" y="638" width="1" height="1"/>
<rect x="495" y="637" width="1" height="2"/>
<rect x="503" y="636" width="1" height="3"/>
<rect x="511" y="634" width="1" height="5"/>
<rect x="519" y="633" width="1" height="6"/>
<rect x="527" y="634" width="1" height="5"/>
<rect x="535" y="632" width="1" height="7"/>
<rect x="543" y="632" width="1" height="7"/>
<rect x="551" y="631" width="1" height="8"/>
<rect x="559" y="631" width="1" height="8"/>
<rect x="567" y="632" width="1" height="7"/>
<rect x="575" y="626" width="1" height="13"/>
<rect x="583" y="620" width="1" height="19"/>
<rect x="591" y="615" width="1" height="24"/>
<rect x="599" y="608" width="1" height="31"/>
<rect x="607" y="604" width="1" height="35"/>
<rect x="615" y="607" width="1" height="32"/>
<rect x="623" y="614" width="1" height="25"/>
<rect x="631" y="624" width="1" height="15"/>
<rect x="639" y="633" width="1" height="6"/>
<rect x="647" y="636" width="1" height="3"/>
<rect x="655" y="638" width="1" height="1"/>
<rect x="663" y="638" width="1" height="3"/>
<rect x="671" y="638" width="1" height="5"/>
<rect x="679" y="638" width="1" height="9"/>
<rect x="687" y="638" width="1" height="12"/>
<rect x="695" y="638" width="1" height="14"/>
<rect x="703" y="638" width="1" height="16"/>
<rect x="711" y="638" width="1" height="17"/>
<rect x="719" y="638" width="1" height="20"/>
<rect x="727" y="638" width="1" height="20"/>
<rect x="735" y="638" width="1" height="18"/>
<rect x="743" y="638" width="1" height="16"/>
<rect x="751" y="638" width="1" height="14"/>
<rect x="759" y="638" width="1" height="11"/>
<rect x="767" y="638" width="1" height="6"/>
<rect x="775" y="638" width="1" height="5"/>
<rect x="783" y="638" width="1" height="4"/>
<rect x="791" y="638" width="1" height="3"/>
<rect x="799" y="638" width="1" height="1"/>
<rect x="807" y="638" width="1" height="2"/>
<rect x="815" y="638" width="1" height="1"/>
<rect x="823" y="638" width="1" height="1"/>
<rect x="831" y="638" width="1" height="2"/>
<rect x="839" y="638" width="1" height="4"/>
<rect x="847" y="638" width="1" height="7"/>
<rect x="855" y="638" width="1" height="6"/>
<rect x="863" y="638" width="1" height="6"/>
<rect x="871" y="638" width="1" height="7"/>
<rect x="879" y="638" width="1" height="6"/>
<rect x="887" y="638" width="1" height="7"/>
<rect x="895" y="638" width="1" height="6"/>
<rect x="903" y="638" width="1" height="6"/>
<rect x="911" y="638" width="1" height="8"/>
<rect x="919" y="638" width="1" height="8"/>
<rect x="927" y="638" width="1" height="7"/>
<rect x="935" y="638" width="1" height="13"/>
<rect x="943" y="638" width="1" height="18"/>
<rect x="951" y="638" width="1" height="25"/>
<rect x="959" y="638" width="1" height="31"/>
<rect x="967" y="638" width="1" height="36"/>
<rect x="975" y="638" width="1" height="41"/>
<rect x="983" y="638" width="1" height="39"/>
<rect x="991" y="638" width="1" height="36"/>
<rect x="999" y="638" width="1" height="33"/>
<rect x="1007" y="638" width="1" height="32"/>
<rect x="1015" y="638" width="1" height="31"/>
<rect x="1023" y="638" width="1" height="30"/>
<rect x="1031" y="638" width="1" height="27"/>
<rect x="1039" y="638" width="1" height="25"/>
<rect x="1047" y="638" width="1" height="22"/>
<rect x="1055" y="638" width="1" height="17"/>
<rect x="1063" y="638" width="1" height="10"/>
<rect x="1071" y="638" width="1" height="5"/>
<rect x="1079" y="638" width="1" height="2"/>
<rect x="1087" y="638" width="1" height="1"/>
<rect x="1095" y="638" width="1" height="2"/>
<rect x="1103" y="638" width="1" height="8"/>
<rect x="1111" y="638" width="1" height="6"/>
<rect x="1119" y="638" width="1" height="8"/>
<rect x="1127" y="638" width="1" height="10"/>
<rect x="1135" y="638" width="1" height="10"/>
<rect x="1143" y="638" width="1" height="8"/>
<rect x="1151" y="638" width="1" height="6"/>
<rect x="1159" y="638" width="1" height="6"/>
<rect x="1167" y="638" width="1" height="3"/>
<rect x="1175" y="638" width="1" height="6"/>
<rect x="1183" y="638" width="1" height="9"/>
<rect x="1191" y="638" width="1" height="7"/>
<rect x="1199" y="638" width="1" height="6"/>
<rect x="1207" y="638" width="1" height="5"/>
<rect x="1215" y="638" width="1" height="4"/>
<rect x="1223" y="638" width="1" height="3"/>
<rect x="1231" y="638" width="1" height="1"/>
<rect x="1239" y="638" width="1" height="1"/>
<rect x="1247" y="638" width="1" height="1"/>
<rect x="1255" y="638" width="1" height="1"/>
<rect x="1263" y="638" width="1" height="1"/>
<rect x="1271" y="638" width="1" height="1"/>
<rect x="1279" y="638" width="1" height="1"/>
<rect x="1287" y="638" width="1" height="1"/>
<rect x="1295" y="638" width="1" height="5"/>
<rect x="1303" y="638" width="1" height="10"/>
<rect x="1311" y="638" width="1" height="16"/>
<rect x="1319" y="638" width="1" height="21"/>
<rect x="1327" y="638" width="1" height="24"/>
<rect x="1335" y="638" width="1" height="26"/>
<rect x="1343" y="638" width="1" height="25"/>
<rect x="1351" y="638" width="1" height="23"/>
<rect x="1359" y="638" width="1" height="18"/>
<rect x="1367" y="638" width="1" height="17"/>
<rect x="1375" y="638" width="1" height="14"/>
<rect x="1383" y="638" width="1" height="12"/>
<rect x="1391" y="638" width="1" height="10"/>
<rect x="1399" y="638" width="1" height="9"/>
<rect x="1407" y="638" width="1" height="7"/>
<rect x="1415" y="638" width="1" height="6"/>
<rect x="1423" y="638" width="1" height="5"/>
<rect x="1431" y="638" width="1" height="4"/>
</g>
<polyline points="0.5,679.2 7.7,690.0 14.9,699.0 22.0,708.9 31.9,717.8 41.8,722.3 51.7,725.0 61.5,721.4 72.3,710.7 83.1,695.4 90.3,682.8 97.4,668.5 104.6,655.9 111.8,643.3 119.0,631.7 126.2,623.6 135.1,614.6 144.1,610.1 151.3,609.6 158.5,612.5 165.7,614.3 172.9,618.2 180.0,622.7 187.2,628.1 195.5,631.7 202.4,634.0 207.1,635.7 218.6,637.2 230.2,637.2 241.7,638.1 247.5,638.9 259.0,640.4 270.6,643.2 282.2,646.1 293.7,649.0 299.5,651.3 311.0,651.9 322.6,653.1 334.1,653.9 345.7,656.0 357.3,657.9 368.8,659.2 380.4,660.6 386.1,662.9 396.3,664.5 404.4,665.8 413.6,666.8 425.2,665.8 432.1,665.8 439.0,664.4 446.0,663.3 452.9,661.2 462.1,659.8 469.1,656.9 478.3,653.5 485.2,650.6 491.0,648.8 499.1,647.7 504.9,645.0 513.0,642.5 521.1,640.8 526.9,638.8 533.8,637.6 543.0,636.1 550.0,633.8 559.2,633.8 568.4,633.3 577.7,631.2 585.5,629.0 592.4,627.9 598.2,625.5 604.0,623.0 609.8,620.9 615.5,619.0 621.3,617.2 628.2,616.1 634.0,616.1 639.8,616.9 645.6,618.0 652.5,619.0 658.3,621.2 664.1,623.0 669.8,625.8 675.6,629.0 681.4,633.1 687.2,636.5 694.1,640.0 699.9,642.9 705.7,645.2 711.4,646.9 718.4,649.2 724.1,651.0 729.9,652.3 735.7,653.8 742.6,655.0 749.6,655.8 758.8,655.0 765.7,655.0 772.7,653.8 779.6,652.7 785.5,651.9 789.7,650.0 796.7,648.8 802.5,646.9 808.2,645.8 814.0,644.2 820.9,643.0 826.7,643.0 832.5,641.9 867.2,641.9 872.9,643.0 881.0,643.0 886.8,643.8 891.4,643.8 897.2,645.0 904.1,645.0 909.9,645.9 928.4,645.9 934.2,646.9 940.0,646.9 945.7,648.5 951.5,650.0 958.4,651.9 964.2,654.2 970.0,656.9 975.5,660.0 981.3,661.9 987.1,664.2 992.8,666.9 998.6,668.8 1005.5,670.0 1011.3,671.7 1017.1,672.9 1031.0,672.9 1036.7,671.7 1042.5,670.6 1049.4,669.7 1055.2,667.1 1061.0,664.8 1066.8,662.7 1072.6,661.1 1078.3,658.5 1084.1,655.6 1089.9,653.3 1096.8,650.9 1102.6,648.9 1108.4,647.7 1114.1,646.9 1121.1,645.7 1125.7,644.9 1137.3,644.9 1144.2,645.9 1153.4,645.9 1158.1,646.9 1182.8,646.9 1190.9,646.1 1211.7,645.9 1217.5,645.0 1225.6,645.0 1229.0,643.8 1240.6,643.8 1246.4,643.0 1251.0,642.1 1257.9,641.9 1263.7,640.9 1269.5,640.1 1281.0,640.0 1288.0,639.2 1293.8,640.0 1299.5,640.0 1304.1,641.2 1311.1,641.9 1318.0,644.2 1322.6,645.9 1327.2,646.1 1331.9,647.9 1336.5,650.0 1342.3,652.3 1348.1,654.2 1352.4,655.8 1360.0,658.0 1366.4,658.9 1372.7,659.9 1377.8,660.0 1384.2,658.9 1398.5,656.0 1413.4,652.6 1420.4,651.0 1426.7,650.0 1431.5,647.9" fill="none" stroke="#ff0000" stroke-width="1" stroke-dasharray="3,2" shape-rendering="crispEdges"/>
<g fill="#ff0000" stroke="#ff0000" shape-rendering="crispEdges">
<line x1="1361" y1="671" x2="1430" y2="643" stroke-width="3.6"/>
<polygon points="1425,638.5 1439,638 1430.5,647" stroke-width="1"/>
</g>
<polyline points="0.5,886.9 8.0,864.7 16.1,868.1 23.9,865.3 31.8,836.1 39.6,846.6 47.4,848.9 55.2,840.3 63.8,833.8 72.1,817.8 79.4,820.0 88.0,825.6 95.8,822.8 103.6,822.0 111.8,824.1 119.6,837.7 127.8,845.9 135.7,848.9 143.9,843.9 151.8,847.5 159.6,848.6 167.4,842.8 175.5,840.0 184.1,836.1 191.9,833.8 200.5,837.7 207.5,836.1 215.3,840.3 223.2,841.9 231.8,848.1 239.7,852.6 246.6,847.7 252.1,844.6 256.3,844.0 263.2,846.8 267.4,845.9 288.2,845.9 295.1,844.0 303.4,847.1 311.8,849.8 318.7,848.2 326.3,850.9 335.3,858.8 343.6,860.6 352.0,848.2 360.3,854.0 367.2,856.1 376.9,856.1 385.2,860.2 392.2,863.0 400.5,859.8 408.8,851.2 415.7,847.1 424.1,833.9 432.4,841.5 440.0,845.7 448.3,837.6 456.0,839.0 463.6,840.8 471.2,836.7 479.9,829.0 487.8,833.9 495.5,832.9 503.5,834.9 511.4,831.1 517.6,832.1 527.6,837.6 536.4,831.1 544.0,834.6 552.0,831.1 560.6,834.9 568.2,838.7 575.2,813.5 580.0,811.0 587.0,808.9 591.8,807.5 599.4,802.0 607.8,802.0 615.4,832.5 622.3,841.5 632.0,856.8 639.7,860.2 648.0,848.2 656.3,848.7 663.9,845.9 671.5,847.7 680.1,856.1 688.2,852.9 695.1,854.7 702.7,856.1 711.0,853.7 720.1,863.0 727.7,848.2 734.6,845.0 747.1,845.0 751.9,843.6 758.2,836.7 767.9,826.9 776.2,840.8 781.8,838.7 792.8,838.7 799.1,836.7 808.1,841.8 815.7,837.1 824.0,844.0 831.0,845.0 840.0,851.9 847.6,852.9 855.9,841.8 863.6,843.2 871.9,851.9 879.9,840.8 887.8,848.7 895.5,845.0 903.1,842.9 912.1,851.9 920.1,841.8 928.7,850.5 935.7,864.8 944.0,864.8 951.6,875.6 959.2,877.9 967.5,877.9 976.3,882.6 983.5,853.9 987.6,852.9 998.7,847.9 1007.7,854.9 1014.0,856.0 1023.7,856.0 1032.0,846.9 1036.2,846.9 1040.3,847.9 1048.0,844.9 1055.6,833.1 1061.8,828.0 1071.5,823.8 1079.8,834.9 1088.2,834.9 1104.1,860.8 1112.1,843.2 1120.5,849.7 1127.0,846.9 1136.7,845.6 1143.6,842.8 1151.9,834.9 1159.8,846.0 1167.9,832.1 1176.2,851.1 1183.3,848.9 1191.9,841.8 1199.7,842.6 1208.3,837.9 1216.1,839.8 1223.9,837.6 1230.9,836.1 1239.5,836.1 1248.0,842.6 1256.6,837.9 1264.4,839.8 1270.6,841.1 1279.2,839.8 1286.2,847.3 1294.0,853.5 1303.4,860.6 1312.8,867.9 1319.0,869.1 1327.6,871.0 1336.2,864.5 1345.5,852.8 1353.3,846.5 1361.1,843.4 1368.9,838.7 1375.9,839.5 1384.5,843.9 1392.3,837.2 1400.1,843.9 1407.9,840.7 1416.5,844.5 1423.5,841.1 1431.3,834.5" fill="none" stroke="#1e90ff" stroke-width="1" shape-rendering="crispEdges"/>
<text x="6.5" y="37" font-size="9.6" fill="#000" textLength="63.5" lengthAdjust="spacingAndGlyphs" font-family="'Liberation Sans',Arial,sans-serif" stroke="#000" stroke-width="0.22">USDJPY-,Daily</text>
<text x="76.5" y="37" font-size="9.6" fill="#000" textLength="140.5" lengthAdjust="spacingAndGlyphs" font-family="'Liberation Sans',Arial,sans-serif" stroke="#000" stroke-width="0.22">105.510 105.786 105.488 105.752</text>
<rect x="0" y="35" width="1" height="2" fill="#000"/>
<text x="-4.5" y="593" font-size="9.6" fill="#000" textLength="134" lengthAdjust="spacingAndGlyphs" font-family="'Liberation Sans',Arial,sans-serif" stroke="#000" stroke-width="0.22">MACD(12,26,9) -0.0527 -0.1324</text>
<text x="-6" y="764.6" font-size="9.6" fill="#000" textLength="68.5" lengthAdjust="spacingAndGlyphs" font-family="'Liberation Sans',Arial,sans-serif" stroke="#000" stroke-width="0.22">RSI(14) 53.8936</text>
<rect x="1685" y="47" width="2" height="1" fill="#000"/>
<text x="1690" y="51" font-size="9.6" fill="#000" textLength="32.5" lengthAdjust="spacingAndGlyphs" font-family="'Liberation Sans',Arial,sans-serif" stroke="#000" stroke-width="0.22">111.810</text>
<rect x="1685" y="80" width="2" height="1" fill="#000"/>
<text x="1690" y="84" font-size="9.6" fill="#000" textLength="32.5" lengthAdjust="spacingAndGlyphs" font-family="'Liberation Sans',Arial,sans-serif" stroke="#000" stroke-width="0.22">111.130</text>
<rect x="1685" y="113" width="2" height="1" fill="#000"/>
<text x="1690" y="117" font-size="9.6" fill="#000" textLength="32.5" lengthAdjust="spacingAndGlyphs" font-family="'Liberation Sans',Arial,sans-serif" stroke="#000" stroke-width="0.22">110.470</text>
<rect x="1685" y="146" width="2" height="1" fill="#000"/>
<text x="1690" y="150" font-size="9.6" fill="#000" textLength="32.5" lengthAdjust="spacingAndGlyphs" font-family="'Liberation Sans',Arial,sans-serif" stroke="#000" stroke-width="0.22">109.790</text>
<rect x="1685" y="179" width="2" height="1" fill="#000"/>
<text x="1690" y="183" font-size="9.6" fill="#000" textLength="32.5" lengthAdjust="spacingAndGlyphs" font-family="'Liberation Sans',Arial,sans-serif" stroke="#000" stroke-width="0.22">109.110</text>
<rect x="1685" y="212" width="2" height="1" fill="#000"/>
<text x="1690" y="216" font-size="9.6" fill="#000" textLength="32.5" lengthAdjust="spacingAndGlyphs" font-family="'Liberation Sans',Arial,sans-serif" stroke="#000" stroke-width="0.22">108.430</text>
<rect x="1685" y="245" width="2" height="1" fill="#000"/>
<text x="1690" y="249" font-size="9.6" fill="#000" textLength="32.5" lengthAdjust="spacingAndGlyphs" font-family="'Liberation Sans',Arial,sans-serif" stroke="#000" stroke-width="0.22">107.750</text>
<rect x="1685" y="278" width="2" height="1" fill="#000"/>
<text x="1690" y="282" font-size="9.6" fill="#000" textLength="32.5" lengthAdjust="spacingAndGlyphs" font-family="'Liberation Sans',Arial,sans-serif" stroke="#000" stroke-width="0.22">107.070</text>
<rect x="1685" y="311" width="2" height="1" fill="#000"/>
<text x="1690" y="315" font-size="9.6" fill="#000" textLength="32.5" lengthAdjust="spacingAndGlyphs" font-family="'Liberation Sans',Arial,sans-serif" stroke="#000" stroke-width="0.22">106.390</text>
<rect x="1685" y="344" width="2" height="1" fill="#000"/>
<text x="1690" y="348" font-size="9.6" fill="#000" textLength="32.5" lengthAdjust="spacingAndGlyphs" font-family="'Liberation Sans',Arial,sans-serif" stroke="#000" stroke-width="0.22">105.710</text>
<rect x="1685" y="377" width="2" height="1" fill="#000"/>
<text x="1690" y="381" font-size="9.6" fill="#000" textLength="32.5" lengthAdjust="spacingAndGlyphs" font-family="'Liberation Sans',Arial,sans-serif" stroke="#000" stroke-width="0.22">105.030</text>
<rect x="1685" y="410" width="2" height="1" fill="#000"/>
<text x="1690" y="414" font-size="9.6" fill="#000" textLength="32.5" lengthAdjust="spacingAndGlyphs" font-family="'Liberation Sans',Arial,sans-serif" stroke="#000" stroke-width="0.22">104.350</text>
<rect x="1685" y="443" width="2" height="1" fill="#000"/>
<text x="1690" y="447" font-size="9.6" fill="#000" textLength="32.5" lengthAdjust="spacingAndGlyphs" font-family="'Liberation Sans',Arial,sans-serif" stroke="#000" stroke-width="0.22">103.670</text>
<rect x="1685" y="476" width="2" height="1" fill="#000"/>
<text x="1690" y="480" font-size="9.6" fill="#000" textLength="32.5" lengthAdjust="spacingAndGlyphs" font-family="'Liberation Sans',Arial,sans-serif" stroke="#000" stroke-width="0.22">102.990</text>
<rect x="1685" y="509" width="2" height="1" fill="#000"/>
<text x="1690" y="513" font-size="9.6" fill="#000" textLength="32.5" lengthAdjust="spacingAndGlyphs" font-family="'Liberation Sans',Arial,sans-serif" stroke="#000" stroke-width="0.22">102.310</text>
<rect x="1685" y="542" width="2" height="1" fill="#000"/>
<text x="1690" y="546" font-size="9.6" fill="#000" textLength="32.5" lengthAdjust="spacingAndGlyphs" font-family="'Liberation Sans',Arial,sans-serif" stroke="#000" stroke-width="0.22">101.630</text>
<rect x="1685" y="575" width="2" height="1" fill="#000"/>
<text x="1690" y="579" font-size="9.6" fill="#000" textLength="32.5" lengthAdjust="spacingAndGlyphs" font-family="'Liberation Sans',Arial,sans-serif" stroke="#000" stroke-width="0.22">100.970</text>
<rect x="1686" y="288" width="41" height="11" fill="#ff0000"/>
<text x="1690.6" y="297" font-size="9.6" fill="#fff" textLength="32.4" lengthAdjust="spacingAndGlyphs" font-family="'Liberation Sans',Arial,sans-serif" stroke="#fff" stroke-width="0.22">106.739</text>
<rect x="1686" y="310" width="41" height="11" fill="#ff0000"/>
<text x="1690.6" y="319" font-size="9.6" fill="#fff" textLength="32.4" lengthAdjust="spacingAndGlyphs" font-family="'Liberation Sans',Arial,sans-serif" stroke="#fff" stroke-width="0.22">106.288</text>
<rect x="1686" y="337" width="41" height="11" fill="#000000"/>
<text x="1690.6" y="346" font-size="9.6" fill="#fff" textLength="32.4" lengthAdjust="spacingAndGlyphs" font-family="'Liberation Sans',Arial,sans-serif" stroke="#fff" stroke-width="0.22">105.752</text>
<rect x="1686" y="363" width="41" height="11" fill="#32cd32"/>
<text x="1690.6" y="372" font-size="9.6" fill="#fff" textLength="32.4" lengthAdjust="spacingAndGlyphs" font-family="'Liberation Sans',Arial,sans-serif" stroke="#fff" stroke-width="0.22">105.200</text>
<rect x="1686" y="382" width="41" height="11" fill="#0000ff"/>
<text x="1690.6" y="391" font-size="9.6" fill="#fff" textLength="32.4" lengthAdjust="spacingAndGlyphs" font-family="'Liberation Sans',Arial,sans-serif" stroke="#fff" stroke-width="0.22">104.810</text>
<rect x="1686" y="405" width="41" height="11" fill="#0000ff"/>
<text x="1690.6" y="414" font-size="9.6" fill="#fff" textLength="32.4" lengthAdjust="spacingAndGlyphs" font-family="'Liberation Sans',Arial,sans-serif" stroke="#fff" stroke-width="0.22">104.338</text>
<rect x="1685" y="582" width="2" height="1" fill="#000"/>
<text x="1688" y="591" font-size="9.6" fill="#000" textLength="28" lengthAdjust="spacingAndGlyphs" font-family="'Liberation Sans',Arial,sans-serif" stroke="#000" stroke-width="0.22">0.8034</text>
<rect x="1685" y="638" width="2" height="1" fill="#000"/>
<text x="1688" y="642" font-size="9.6" fill="#000" textLength="17.5" lengthAdjust="spacingAndGlyphs" font-family="'Liberation Sans',Arial,sans-serif" stroke="#000" stroke-width="0.22">0.00</text>
<rect x="1685" y="749" width="2" height="1" fill="#000"/>
<text x="1687.5" y="747" font-size="9.6" fill="#000" textLength="31.5" lengthAdjust="spacingAndGlyphs" font-family="'Liberation Sans',Arial,sans-serif" stroke="#000" stroke-width="0.22">-1.5784</text>
<rect x="1685" y="754" width="2" height="1" fill="#000"/>
<text x="1688" y="763" font-size="9.6" fill="#000" textLength="15" lengthAdjust="spacingAndGlyphs" font-family="'Liberation Sans',Arial,sans-serif" stroke="#000" stroke-width="0.22">100</text>
<rect x="1685" y="788" width="2" height="1" fill="#000"/>
<text x="1688" y="792" font-size="9.6" fill="#000" textLength="10" lengthAdjust="spacingAndGlyphs" font-family="'Liberation Sans',Arial,sans-serif" stroke="#000" stroke-width="0.22">80</text>
<rect x="1685" y="839" width="2" height="1" fill="#000"/>
<text x="1688" y="843" font-size="9.6" fill="#000" textLength="10" lengthAdjust="spacingAndGlyphs" font-family="'Liberation Sans',Arial,sans-serif" stroke="#000" stroke-width="0.22">50</text>
<rect x="1685" y="900" width="2" height="1" fill="#000"/>
<text x="1688" y="904" font-size="9.6" fill="#000" textLength="10" lengthAdjust="spacingAndGlyphs" font-family="'Liberation Sans',Arial,sans-serif" stroke="#000" stroke-width="0.22">15</text>
<rect x="1685" y="925" width="2" height="1" fill="#000"/>
<text x="1688" y="923" font-size="9.6" fill="#000" textLength="5" lengthAdjust="spacingAndGlyphs" font-family="'Liberation Sans',Arial,sans-serif" stroke="#000" stroke-width="0.22">0</text>
<text x="-9.8" y="939" font-size="9.6" fill="#000" textLength="47.0" lengthAdjust="spacingAndGlyphs" font-family="'Liberation Sans',Arial,sans-serif" stroke="#000" stroke-width="0.22">8 Mar 2020</text>
<rect x="55" y="927" width="1" height="3" fill="#000"/>
<text x="54.2" y="939" font-size="9.6" fill="#000" textLength="52.2" lengthAdjust="spacingAndGlyphs" font-family="'Liberation Sans',Arial,sans-serif" stroke="#000" stroke-width="0.22">17 Mar 2020</text>
<rect x="119" y="927" width="1" height="3" fill="#000"/>
<text x="118.2" y="939" font-size="9.6" fill="#000" textLength="52.2" lengthAdjust="spacingAndGlyphs" font-family="'Liberation Sans',Arial,sans-serif" stroke="#000" stroke-width="0.22">26 Mar 2020</text>
<rect x="183" y="927" width="1" height="3" fill="#000"/>
<text x="182.2" y="939" font-size="9.6" fill="#000" textLength="45.1" lengthAdjust="spacingAndGlyphs" font-family="'Liberation Sans',Arial,sans-serif" stroke="#000" stroke-width="0.22">5 Apr 2020</text>
<rect x="247" y="927" width="1" height="3" fill="#000"/>
<text x="246.2" y="939" font-size="9.6" fill="#000" textLength="50.4" lengthAdjust="spacingAndGlyphs" font-family="'Liberation Sans',Arial,sans-serif" stroke="#000" stroke-width="0.22">15 Apr 2020</text>
<rect x="311" y="927" width="1" height="3" fill="#000"/>
<text x="310.2" y="939" font-size="9.6" fill="#000" textLength="50.4" lengthAdjust="spacingAndGlyphs" font-family="'Liberation Sans',Arial,sans-serif" stroke="#000" stroke-width="0.22">24 Apr 2020</text>
<rect x="375" y="927" width="1" height="3" fill="#000"/>
<text x="374.2" y="939" font-size="9.6" fill="#000" textLength="48.7" lengthAdjust="spacingAndGlyphs" font-family="'Liberation Sans',Arial,sans-serif" stroke="#000" stroke-width="0.22">4 May 2020</text>
<rect x="439" y="927" width="1" height="3" fill="#000"/>
<text x="438.2" y="939" font-size="9.6" fill="#000" textLength="53.9" lengthAdjust="spacingAndGlyphs" font-family="'Liberation Sans',Arial,sans-serif" stroke="#000" stroke-width="0.22">13 May 2020</text>
<rect x="503" y="927" width="1" height="3" fill="#000"/>
<text x="502.2" y="939" font-size="9.6" fill="#000" textLength="53.9" lengthAdjust="spacingAndGlyphs" font-family="'Liberation Sans',Arial,sans-serif" stroke="#000" stroke-width="0.22">22 May 2020</text>
<rect x="567" y="927" width="1" height="3" fill="#000"/>
<text x="566.2" y="939" font-size="9.6" fill="#000" textLength="45.6" lengthAdjust="spacingAndGlyphs" font-family="'Liberation Sans',Arial,sans-serif" stroke="#000" stroke-width="0.22">1 Jun 2020</text>
<rect x="631" y="927" width="1" height="3" fill="#000"/>
<text x="630.2" y="939" font-size="9.6" fill="#000" textLength="50.8" lengthAdjust="spacingAndGlyphs" font-family="'Liberation Sans',Arial,sans-serif" stroke="#000" stroke-width="0.22">10 Jun 2020</text>
<rect x="695" y="927" width="1" height="3" fill="#000"/>
<text x="694.2" y="939" font-size="9.6" fill="#000" textLength="50.8" lengthAdjust="spacingAndGlyphs" font-family="'Liberation Sans',Arial,sans-serif" stroke="#000" stroke-width="0.22">19 Jun 2020</text>
<rect x="759" y="927" width="1" height="3" fill="#000"/>
<text x="758.2" y="939" font-size="9.6" fill="#000" textLength="50.8" lengthAdjust="spacingAndGlyphs" font-family="'Liberation Sans',Arial,sans-serif" stroke="#000" stroke-width="0.22">29 Jun 2020</text>
<rect x="823" y="927" width="1" height="3" fill="#000"/>
<text x="822.2" y="939" font-size="9.6" fill="#000" textLength="42.4" lengthAdjust="spacingAndGlyphs" font-family="'Liberation Sans',Arial,sans-serif" stroke="#000" stroke-width="0.22">8 Jul 2020</text>
<rect x="887" y="927" width="1" height="3" fill="#000"/>
<text x="886.2" y="939" font-size="9.6" fill="#000" textLength="47.7" lengthAdjust="spacingAndGlyphs" font-family="'Liberation Sans',Arial,sans-serif" stroke="#000" stroke-width="0.22">17 Jul 2020</text>
<rect x="951" y="927" width="1" height="3" fill="#000"/>
<text x="950.2" y="939" font-size="9.6" fill="#000" textLength="47.7" lengthAdjust="spacingAndGlyphs" font-family="'Liberation Sans',Arial,sans-serif" stroke="#000" stroke-width="0.22">27 Jul 2020</text>
<rect x="1015" y="927" width="1" height="3" fill="#000"/>
<text x="1014.2" y="939" font-size="9.6" fill="#000" textLength="47.2" lengthAdjust="spacingAndGlyphs" font-family="'Liberation Sans',Arial,sans-serif" stroke="#000" stroke-width="0.22">5 Aug 2020</text>
<rect x="1079" y="927" width="1" height="3" fill="#000"/>
<text x="1078.2" y="939" font-size="9.6" fill="#000" textLength="52.5" lengthAdjust="spacingAndGlyphs" font-family="'Liberation Sans',Arial,sans-serif" stroke="#000" stroke-width="0.22">14 Aug 2020</text>
<rect x="1143" y="927" width="1" height="3" fill="#000"/>
<text x="1142.2" y="939" font-size="9.6" fill="#000" textLength="52.5" lengthAdjust="spacingAndGlyphs" font-family="'Liberation Sans',Arial,sans-serif" stroke="#000" stroke-width="0.22">24 Aug 2020</text>
<rect x="1207" y="927" width="1" height="3" fill="#000"/>
<text x="1206.2" y="939" font-size="9.6" fill="#000" textLength="47.2" lengthAdjust="spacingAndGlyphs" font-family="'Liberation Sans',Arial,sans-serif" stroke="#000" stroke-width="0.22">2 Sep 2020</text>
<rect x="1271" y="927" width="1" height="3" fill="#000"/>
<text x="1270.2" y="939" font-size="9.6" fill="#000" textLength="52.5" lengthAdjust="spacingAndGlyphs" font-family="'Liberation Sans',Arial,sans-serif" stroke="#000" stroke-width="0.22">11 Sep 2020</text>
<rect x="1335" y="927" width="1" height="3" fill="#000"/>
<text x="1334.2" y="939" font-size="9.6" fill="#000" textLength="52.5" lengthAdjust="spacingAndGlyphs" font-family="'Liberation Sans',Arial,sans-serif" stroke="#000" stroke-width="0.22">21 Sep 2020</text>
<rect x="1399" y="927" width="1" height="3" fill="#000"/>
<text x="1398.2" y="939" font-size="9.6" fill="#000" textLength="52.5" lengthAdjust="spacingAndGlyphs" font-family="'Liberation Sans',Arial,sans-serif" stroke="#000" stroke-width="0.22">30 Sep 2020</text>
<rect x="1730" y="22" width="1" height="925" fill="#ececec"/>
<rect x="0" y="0" width="1731" height="20" fill="#f0f0f0"/>
<rect x="0" y="20" width="1731" height="1" fill="#d4d4d4"/>
<rect x="0" y="21" width="1731" height="1" fill="#9a9a9a"/>
<rect x="0" y="22" width="1731" height="1" fill="#646464"/>
<rect x="-6" y="2.5" width="13" height="13" rx="1.5" fill="#fff" stroke="#3a78c8" stroke-width="1"/>
<rect x="-4" y="6" width="10" height="1" fill="#8fb2e0"/>
<rect x="-4" y="9" width="10" height="1" fill="#8fb2e0"/>
<rect x="-4" y="12" width="10" height="1" fill="#8fb2e0"/>
<rect x="20.5" y="1.5" width="12" height="13" fill="#f6f6f6" stroke="#a09c94"/>
<circle cx="28" cy="10" r="4.3" fill="#d6e6f8" stroke="#6a96d0" stroke-width="1.2"/>
<line x1="31" y1="13" x2="36.5" y2="17.5" stroke="#c89a1e" stroke-width="2.2"/>
<rect x="45" y="1" width="1" height="18" fill="#a0a0a0"/><rect x="46" y="1" width="1" height="18" fill="#ffffff"/>
<path d="M55.5 1.5 h8 l3 3 v10 h-11 z" fill="#f8f8f8" stroke="#7a7a7a"/>
<rect x="57" y="4" width="4" height="1.5" fill="#999"/><rect x="57" y="8" width="7" height="1" fill="#999"/><rect x="57" y="10.5" width="7" height="1" fill="#999"/>
<path d="M62 8 h3 v3.5 h3.5 v3 h-3.5 v3.5 h-3 v-3.5 h-3.5 v-3 h3.5 z" fill="#22c022" stroke="#11901a" stroke-width="0.8"/>
<text x="73.5" y="13" font-size="12" font-family="'Liberation Sans','Noto Sans CJK SC',sans-serif" fill="#000" textLength="36.5" lengthAdjust="spacingAndGlyphs">新订单</text>
<path d="M123 9.5 L129.5 2.5 L137.5 8.5 L131 15.5 Z" fill="#f0c030" stroke="#b08010" stroke-width="0.9"/>
<path d="M123 9.5 L131 15.5 L131 17.5 L122.5 11.5 Z" fill="#c88a18"/>
<path d="M131 15.5 L137.5 8.5 L137.5 10.5 L131 17.5 Z" fill="#a86c10"/>
<path d="M152.5 3 L155 1.5 L163 1.5 L160.5 3 Z" fill="#8cc4f4"/>
<path d="M160.5 3 L163 1.5 L163 9 L160.5 10.5 Z" fill="#1c6cc8"/>
<rect x="152.5" y="3" width="8" height="7.5" fill="#3a90ea"/>
<rect x="154" y="5" width="5" height="1" fill="#e8f2fc"/><rect x="154" y="7.5" width="5" height="1" fill="#e8f2fc"/>
<path d="M151.5 16.5 C148.5 16.5 148.5 12 152 12 C152 9 156.5 8.5 157.5 10.5 C159 8.5 163.5 9.5 163 12.5 C166.5 12.5 166.5 16.5 163.5 16.5 Z" fill="#eef2fa" stroke="#7088b8" stroke-width="1"/>
<circle cx="186" cy="9" r="7.5" fill="none" stroke="#8fb8e0" stroke-width="1"/>
<circle cx="186" cy="9" r="5" fill="none" stroke="#6a9ad8" stroke-width="1"/>
<circle cx="186" cy="9" r="2.5" fill="#3a6ad8"/>
<path d="M186 9 L186 17 A8 8 0 0 0 193 12" fill="none" stroke="#3aa83a" stroke-width="1.5"/>
<ellipse cx="213" cy="5.5" rx="8" ry="3" fill="#6ab0e0" stroke="#3a80c0" stroke-width="0.8"/>
<ellipse cx="213" cy="3.5" rx="4" ry="2.5" fill="#8cc8f0"/>
<path d="M206 7 L219 7 L214 16 Z" fill="#f0d860" stroke="#c8a830" stroke-width="0.8"/>
<circle cx="217.5" cy="12.5" r="4.3" fill="#e02818"/><rect x="215.8" y="10.8" width="3.4" height="3.4" fill="#fff"/>
<text x="226.5" y="13" font-size="12" font-family="'Liberation Sans','Noto Sans CJK SC',sans-serif" fill="#000" textLength="46.5" lengthAdjust="spacingAndGlyphs">自动交易</text>
<rect x="281" y="0" width="1" height="20" fill="#a0a0a0"/>
<rect x="285" y="2" width="3" height="1" fill="#a8a8a8"/>
<rect x="285" y="4" width="3" height="1" fill="#a8a8a8"/>
<rect x="285" y="6" width="3" height="1" fill="#a8a8a8"/>
<rect x="285" y="8" width="3" height="1" fill="#a8a8a8"/>
<rect x="285" y="10" width="3" height="1" fill="#a8a8a8"/>
<rect x="285" y="12" width="3" height="1" fill="#a8a8a8"/>
<rect x="285" y="14" width="3" height="1" fill="#a8a8a8"/>
<rect x="285" y="16" width="3" height="1" fill="#a8a8a8"/>
<rect x="299" y="3" width="1" height="13" fill="#555"/><rect x="297" y="14" width="14" height="1" fill="#555"/>
<path d="M297.5 5 l2 -2.5 l2 2.5 z" fill="#555"/><path d="M310 12.5 l2.5 2 l-2.5 2 z" fill="#555"/>
<path d="M303 11.5 h2.5 M305 12.5 v-8 M305 5 h3" fill="none" stroke="#22a022" stroke-width="1.4"/>
<rect x="319" y="1" width="1" height="18" fill="#a0a0a0"/><rect x="320" y="1" width="1" height="18" fill="#ffffff"/>
<rect x="321" y="0" width="23" height="19" fill="#f7f7f7"/>
<rect x="327" y="3" width="1" height="13" fill="#555"/><rect x="325" y="14" width="14" height="1" fill="#555"/>
<path d="M325.5 5 l2 -2.5 l2 2.5 z" fill="#555"/><path d="M338 12.5 l2.5 2 l-2.5 2 z" fill="#555"/>
<rect x="331.5" y="4.5" width="4" height="7" fill="#22d040" stroke="#118a22"/><rect x="333" y="2" width="1" height="12" fill="#118a22"/>
<rect x="355" y="3" width="1" height="13" fill="#555"/><rect x="353" y="14" width="14" height="1" fill="#555"/>
<path d="M353.5 5 l2 -2.5 l2 2.5 z" fill="#555"/><path d="M366 12.5 l2.5 2 l-2.5 2 z" fill="#555"/>
<path d="M356 11 Q361 3 366 9" fill="none" stroke="#22a022" stroke-width="1.2"/>
<rect x="376" y="1" width="1" height="18" fill="#a0a0a0"/><rect x="377" y="1" width="1" height="18" fill="#ffffff"/>
<circle cx="391" cy="7.5" r="5.3" fill="#d8ecfc" stroke="#3a7ad8" stroke-width="1.3"/>
<rect x="388" y="7" width="6" height="1.6" fill="#3a7ad8"/><rect x="390.2" y="4.8" width="1.6" height="6" fill="#3a7ad8"/>
<line x1="395" y1="11.5" x2="400" y2="16" stroke="#c8a020" stroke-width="2.4"/>
<circle cx="419" cy="7.5" r="5.3" fill="#d8ecfc" stroke="#3a7ad8" stroke-width="1.3"/>
<rect x="416" y="7" width="6" height="1.6" fill="#3a7ad8"/>
<line x1="423" y1="11.5" x2="428" y2="16" stroke="#c8a020" stroke-width="2.4"/>
<rect x="441" y="1.5" width="7.5" height="7.5" fill="#38a838"/><rect x="449" y="1.5" width="7.5" height="7.5" fill="#2a5ad8"/>
<rect x="441" y="9.5" width="7.5" height="7.5" fill="#2a5ad8"/><rect x="449" y="9.5" width="7.5" height="7.5" fill="#38a838"/>
<rect x="442" y="4" width="5.5" height="3" fill="#f0f4f8"/>
<rect x="450" y="4" width="5.5" height="3" fill="#f0f4f8"/>
<rect x="442" y="12" width="5.5" height="3" fill="#f0f4f8"/>
<rect x="450" y="12" width="5.5" height="3" fill="#f0f4f8"/>
<rect x="466" y="1" width="1" height="18" fill="#a0a0a0"/><rect x="467" y="1" width="1" height="18" fill="#ffffff"/>
<rect x="471" y="0" width="25" height="19" fill="#f7f7f7"/>
<rect x="479" y="3" width="1" height="13" fill="#555"/><rect x="477" y="14" width="14" height="1" fill="#555"/>
<path d="M477.5 5 l2 -2.5 l2 2.5 z" fill="#555"/><path d="M490 12.5 l2.5 2 l-2.5 2 z" fill="#555"/>
<path d="M484 4.5 l4 3.5 l-4 3.5 z" fill="none" stroke="#22a022" stroke-width="1.2"/>
<rect x="499" y="1" width="1" height="18" fill="#a0a0a0"/><rect x="500" y="1" width="1" height="18" fill="#ffffff"/>
<rect x="500" y="0" width="24" height="19" fill="#f7f7f7"/>
<rect x="507" y="3" width="1" height="13" fill="#555"/><rect x="505" y="14" width="14" height="1" fill="#555"/>
<path d="M505.5 5 l2 -2.5 l2 2.5 z" fill="#555"/><path d="M518 12.5 l2.5 2 l-2.5 2 z" fill="#555"/>
<rect x="513" y="3" width="1" height="10" fill="#2a6ad8"/><path d="M519 8 l-4 0 m0 0 l2 -2 m-2 2 l2 2" stroke="#e05010" stroke-width="1.3" fill="none"/>
<rect x="528" y="1" width="1" height="18" fill="#a0a0a0"/><rect x="529" y="1" width="1" height="18" fill="#ffffff"/>
<path d="M538.5 1.5 h8 l3 3 v10 h-11 z" fill="#f8f8f8" stroke="#7a7a7a"/>
<path d="M545 8 h3 v3.5 h3.5 v3 h-3.5 v3.5 h-3 v-3.5 h-3.5 v-3 h3.5 z" fill="#22c022" stroke="#11901a" stroke-width="0.8"/>
<path d="M560.0 8 h5 l-2.5 3 z" fill="#000"/>
<circle cx="584" cy="9" r="7.3" fill="#2a78e0" stroke="#1a50b0" stroke-width="1"/><circle cx="584" cy="9" r="5.2" fill="#f4f8fc"/>
<path d="M584 5 v4 h2.5" fill="none" stroke="#333" stroke-width="1"/>
<path d="M599.0 8 h5 l-2.5 3 z" fill="#000"/>
<rect x="615" y="2" width="16" height="13" fill="#f4f8fc" stroke="#2a5ab8" stroke-width="1"/><rect x="615.5" y="2.5" width="15" height="2" fill="#3a6ad8"/>
<path d="M617 8 l3 -1 l3 1 l3 -1.5 l3 0.5" fill="none" stroke="#b02020" stroke-width="1"/><rect x="616" y="9.5" width="14" height="1" fill="#2a5ab8"/>
<path d="M617 13 l3 -1.5 l3 1 l3 -2 l3 1.5" fill="none" stroke="#20a020" stroke-width="1"/>
<path d="M638.0 8 h5 l-2.5 3 z" fill="#000"/>
<rect x="649" y="0" width="1" height="20" fill="#a0a0a0"/>
<rect x="653" y="2" width="3" height="1" fill="#a8a8a8"/>
<rect x="653" y="4" width="3" height="1" fill="#a8a8a8"/>
<rect x="653" y="6" width="3" height="1" fill="#a8a8a8"/>
<rect x="653" y="8" width="3" height="1" fill="#a8a8a8"/>
<rect x="653" y="10" width="3" height="1" fill="#a8a8a8"/>
<rect x="653" y="12" width="3" height="1" fill="#a8a8a8"/>
<rect x="653" y="14" width="3" height="1" fill="#a8a8a8"/>
<rect x="653" y="16" width="3" height="1" fill="#a8a8a8"/>
<rect x="659" y="1" width="1" height="18" fill="#a0a0a0"/>
<rect x="660" y="0" width="24" height="19" fill="#f7f7f7"/>
<path d="M666.5 3 L666.5 15 L669.5 12 L672 16.5 L674 15.5 L671.7 11.2 L675.2 11.2 Z" fill="#404040"/>
<rect x="692" y="9" width="15" height="1" fill="#404040"/><rect x="699" y="2" width="1" height="15" fill="#404040"/>
<rect x="698" y="9" width="3" height="1" fill="#f0f0f0"/><rect x="699" y="8" width="1" height="3" fill="#f0f0f0"/>
<rect x="716" y="1" width="1" height="18" fill="#a0a0a0"/><rect x="717" y="1" width="1" height="18" fill="#ffffff"/>
<rect x="733" y="3" width="1" height="13" fill="#404040"/>
<rect x="756" y="9" width="12" height="1" fill="#404040"/>
<line x1="784" y1="16" x2="796" y2="4" stroke="#404040" stroke-width="1"/>
<path d="M810 12 l6 -9 M813 14 l6 -9 M816 15 l6 -11" stroke="#404040" stroke-width="1"/><path d="M811 9 h10 M811 11.5 h10" stroke="#404040" stroke-width="1" stroke-dasharray="1,1"/>
<text x="820" y="17" font-size="7.5" font-weight="bold" fill="#404040" font-family="'Liberation Sans',sans-serif">E</text>
<line x1="838.5" y1="2.5" x2="851" y2="2.5" stroke="#505050" stroke-width="1" stroke-dasharray="1,1"/>
<line x1="838.5" y1="6" x2="851" y2="6" stroke="#505050" stroke-width="1" stroke-dasharray="1,1"/>
<line x1="838.5" y1="9.5" x2="851" y2="9.5" stroke="#505050" stroke-width="1" stroke-dasharray="1,1"/>
<line x1="838.5" y1="13" x2="851" y2="13" stroke="#505050" stroke-width="1" stroke-dasharray="1,1"/>
<text x="847" y="17" font-size="7.5" font-weight="bold" fill="#404040" font-family="'Liberation Sans',sans-serif">F</text>
<text x="869.5" y="14" font-size="11" font-weight="bold" fill="#505050" font-family="'Liberation Sans',sans-serif">A</text>
<rect x="895.5" y="2.5" width="12" height="13" fill="none" stroke="#606060" stroke-width="1" stroke-dasharray="1,1"/>
<text x="898" y="14" font-size="12" font-weight="bold" fill="#505050" font-family="'Liberation Sans',sans-serif">T</text>
<path d="M923 5.5 l3 -2.5 l3 2.5 l-3 2.5 z M931 12.5 l3 -2.5 l3 2.5 l-3 2.5 z" fill="#404040"/><path d="M925 9 l3 4 l4 -6" fill="none" stroke="#404040" stroke-width="1.2"/>
<path d="M944.0 8 h5 l-2.5 3 z" fill="#000"/>
<rect x="955" y="0" width="1" height="20" fill="#a0a0a0"/>
<rect x="959" y="2" width="3" height="1" fill="#a8a8a8"/>
<rect x="959" y="4" width="3" height="1" fill="#a8a8a8"/>
<rect x="959" y="6" width="3" height="1" fill="#a8a8a8"/>
<rect x="959" y="8" width="3" height="1" fill="#a8a8a8"/>
<rect x="959" y="10" width="3" height="1" fill="#a8a8a8"/>
<rect x="959" y="12" width="3" height="1" fill="#a8a8a8"/>
<rect x="959" y="14" width="3" height="1" fill="#a8a8a8"/>
<rect x="959" y="16" width="3" height="1" fill="#a8a8a8"/>
<rect x="1133" y="0" width="25" height="19" fill="#f7f7f7"/>
<rect x="1133" y="0" width="1" height="19" fill="#c0c0c0"/>
<text x="970.5" y="13.2" font-size="10.5" fill="#3c3c3c" font-family="'Liberation Sans',sans-serif" textLength="13.0" lengthAdjust="spacingAndGlyphs">M1</text>
<text x="998.3" y="13.2" font-size="10.5" fill="#3c3c3c" font-family="'Liberation Sans',sans-serif" textLength="12.7" lengthAdjust="spacingAndGlyphs">M5</text>
<text x="1024.3" y="13.2" font-size="10.5" fill="#3c3c3c" font-family="'Liberation Sans',sans-serif" textLength="18.0" lengthAdjust="spacingAndGlyphs">M15</text>
<text x="1052.6" y="13.2" font-size="10.5" fill="#3c3c3c" font-family="'Liberation Sans',sans-serif" textLength="18.0" lengthAdjust="spacingAndGlyphs">M30</text>
<text x="1083.1" y="13.2" font-size="10.5" fill="#3c3c3c" font-family="'Liberation Sans',sans-serif" textLength="12.5" lengthAdjust="spacingAndGlyphs">H1</text>
<text x="1110.6" y="13.2" font-size="10.5" fill="#3c3c3c" font-family="'Liberation Sans',sans-serif" textLength="12.7" lengthAdjust="spacingAndGlyphs">H4</text>
<text x="1139.8" y="13.2" font-size="10.5" fill="#3c3c3c" font-family="'Liberation Sans',sans-serif" textLength="12.2" lengthAdjust="spacingAndGlyphs">D1</text>
<text x="1167" y="13.2" font-size="10.5" fill="#3c3c3c" font-family="'Liberation Sans',sans-serif" textLength="14.4" lengthAdjust="spacingAndGlyphs">W1</text>
<text x="1193.7" y="13.2" font-size="10.5" fill="#3c3c3c" font-family="'Liberation Sans',sans-serif" textLength="14.8" lengthAdjust="spacingAndGlyphs">MN</text>
<rect x="1216" y="0" width="1" height="20" fill="#a0a0a0"/>
<circle cx="1686" cy="6.8" r="3.6" fill="none" stroke="#2a5ad8" stroke-width="1.5"/><line x1="1683.5" y1="9.5" x2="1679.5" y2="13.5" stroke="#2a5ad8" stroke-width="2.2"/>
<ellipse cx="1719" cy="6" rx="5.5" ry="4" fill="#e0e2ec" stroke="#808080" stroke-width="1"/>
<ellipse cx="1710" cy="10" rx="5" ry="3.5" fill="#e0e2ec" stroke="#808080" stroke-width="1"/>
<path d="M1707 12.5 l-0.5 3 l3 -2" fill="#808080"/><path d="M1721 9 l1 2.5 l1 -3" fill="#808080"/>
<defs><linearGradient id="gBtn" x1="0" y1="0" x2="0" y2="1"><stop offset="0" stop-color="#5a5aff"/><stop offset="1" stop-color="#3b3be6"/></linearGradient><linearGradient id="gPr" x1="0" y1="0" x2="0" y2="1"><stop offset="0" stop-color="#3a3ae6"/><stop offset="0.5" stop-color="#1c1cc8"/><stop offset="1" stop-color="#0404aa"/></linearGradient><linearGradient id="gSp" x1="0" y1="0" x2="0" y2="1"><stop offset="0" stop-color="#f2f2f2"/><stop offset="0.33" stop-color="#ececec"/><stop offset="0.34" stop-color="#dadada"/><stop offset="1" stop-color="#d2d2d2"/></linearGradient></defs>
<g shape-rendering="crispEdges">
<rect x="0" y="45" width="213" height="64" fill="#fff"/>
<path d="M-10 45 H46 V69 H103 V109 H-10 Z" fill="#0000a0"/>
<rect x="-10" y="46" width="55" height="22" fill="url(#gBtn)"/>
<rect x="-10" y="70" width="112" height="38" fill="url(#gPr)"/>
<rect x="0" y="68" width="43" height="1" fill="#0c0c80"/><rect x="0" y="69" width="43" height="1" fill="#7c7cff"/>
<path d="M105 69 H161 V45 H213 V109 H105 Z" fill="#0000a0"/>
<rect x="162" y="46" width="50" height="22" fill="url(#gBtn)"/>
<rect x="106" y="70" width="106" height="38" fill="url(#gPr)"/>
<rect x="165" y="68" width="45" height="1" fill="#0c0c80"/><rect x="165" y="69" width="45" height="1" fill="#7c7cff"/>
<rect x="48" y="45" width="111" height="22" fill="#b4b4b4"/>
<rect x="49" y="46" width="109" height="20" fill="#fff"/>
<rect x="69" y="46" width="1" height="20" fill="#b4b4b4"/><rect x="137" y="46" width="1" height="20" fill="#b4b4b4"/>
<rect x="50" y="47" width="18" height="18" fill="url(#gSp)"/>
<rect x="139" y="47" width="18" height="18" fill="url(#gSp)"/>
</g>
<path d="M55.5 54 L61.5 54 L58.5 57.2 Z" fill="#5a6acc"/>
<path d="M144.5 57 L150.5 57 L147.5 53.8 Z" fill="#5a6acc"/>
<text x="6.3" y="61" font-size="11.8" fill="#f0f0ff" font-family="'Liberation Sans',Arial,sans-serif" textLength="25.8" lengthAdjust="spacingAndGlyphs">SELL</text>
<text x="174.5" y="61" font-size="11.8" fill="#f0f0ff" font-family="'Liberation Sans',Arial,sans-serif" textLength="24" lengthAdjust="spacingAndGlyphs">BUY</text>
<text x="110.2" y="60.2" font-size="12.8" fill="#000" font-family="'Liberation Sans',Arial,sans-serif" textLength="23.5" lengthAdjust="spacingAndGlyphs">1.00</text>
<text x="17.2" y="100" font-size="12.6" fill="#fff" font-weight="bold" font-family="'Liberation Sans',Arial,sans-serif" textLength="20.8" lengthAdjust="spacingAndGlyphs">105</text>
<text x="41.6" y="100" font-size="34" fill="#fff" font-family="'Liberation Sans',Arial,sans-serif" textLength="34.5" lengthAdjust="spacingAndGlyphs">75</text>
<text x="81.4" y="84" font-size="11.6" fill="#fff" font-weight="bold" font-family="'Liberation Sans',Arial,sans-serif" textLength="7" lengthAdjust="spacingAndGlyphs">2</text>
<text x="127.5" y="100" font-size="12.6" fill="#fff" font-weight="bold" font-family="'Liberation Sans',Arial,sans-serif" textLength="20.8" lengthAdjust="spacingAndGlyphs">105</text>
<text x="152.6" y="100" font-size="34" fill="#fff" font-family="'Liberation Sans',Arial,sans-serif" textLength="35.3" lengthAdjust="spacingAndGlyphs">76</text>
<text x="192.1" y="84" font-size="11.6" fill="#fff" font-weight="bold" font-family="'Liberation Sans',Arial,sans-serif" textLength="7" lengthAdjust="spacingAndGlyphs">9</text>
</svg>
</body></html>
